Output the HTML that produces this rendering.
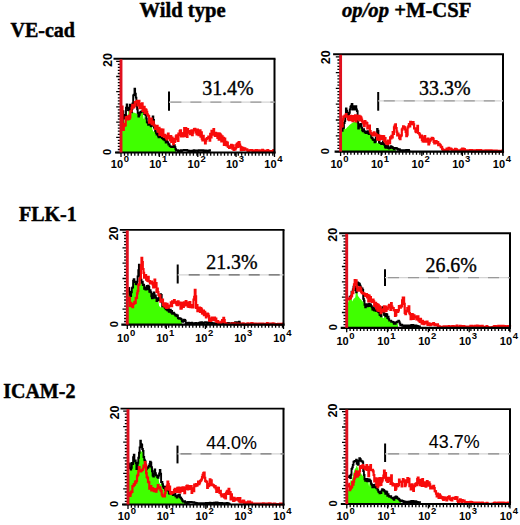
<!DOCTYPE html>
<html><head><meta charset="utf-8"><style>
html,body{margin:0;padding:0;background:#fff;}
body{width:520px;height:525px;overflow:hidden;position:relative;}
svg{position:absolute;left:0;top:0;}
</style></head><body>
<svg width="520" height="525" viewBox="0 0 520 525">
<g font-family="Liberation Serif" font-weight="bold" font-size="20" stroke="#000" stroke-width="0.45">
<text transform="translate(139.5,17.2) scale(1.03,1)">Wild type</text>
<text transform="translate(342,17.2) scale(1.032,1)"><tspan font-style="italic">op/op</tspan> +M-CSF</text>
<text x="10.5" y="37.1">VE-cad</text>
<text x="19" y="220.6">FLK-1</text>
<text x="3.2" y="398">ICAM-2</text>
</g>
<polygon points="121.5,152.5 121.5,127.7 122.0,127.7 122.7,123.8 123.3,125.3 124.0,124.1 124.6,119.2 125.3,115.6 125.9,116.2 126.6,118.8 127.2,117.8 127.9,116.7 128.5,110.7 129.2,110.8 129.8,110.4 130.5,114.6 131.1,114.1 131.8,112.8 132.4,109.5 133.1,112.5 133.7,112.5 134.4,112.7 135.0,113.0 135.7,113.3 136.3,113.5 137.0,113.8 137.6,109.9 138.3,113.5 138.9,117.2 139.6,115.3 140.2,113.2 140.9,112.8 141.5,112.3 142.2,112.0 142.8,111.7 143.5,118.5 144.1,119.1 144.8,114.6 145.4,120.6 146.1,115.7 146.7,119.1 147.4,123.0 148.0,123.2 148.7,125.3 149.3,124.0 150.0,121.7 150.6,127.5 151.3,126.8 151.9,126.4 152.6,130.1 153.2,131.1 153.9,132.0 154.5,128.1 155.2,129.2 155.8,131.7 156.5,133.4 157.1,135.2 157.8,133.7 158.4,136.4 159.1,137.9 159.7,136.9 160.4,136.5 161.0,137.6 161.7,136.7 162.3,138.6 163.0,139.0 163.6,139.9 164.3,139.4 164.9,140.9 165.6,139.9 166.2,143.1 166.9,139.9 167.5,142.7 168.2,142.8 168.8,145.1 169.5,144.7 170.1,146.7 170.8,147.0 171.4,147.3 172.1,147.7 172.7,147.3 173.4,147.7 174.0,146.2 174.7,145.8 175.3,147.7 176.0,149.8 176.0,152.0 176.0,152.5" fill="#40ff00"/>
<polyline points="122.1,123.2 122.8,123.2 122.8,111.1 123.4,111.1 123.4,114.9 124.1,114.9 124.1,118.6 124.7,118.6 124.7,115.0 125.4,115.0 125.4,115.6 126.0,115.6 126.0,107.8 126.7,107.8 126.7,104.4 127.3,104.4 127.3,107.7 128.0,107.7 128.0,110.1 128.6,110.1 128.6,110.2 129.3,110.2 129.3,109.8 129.9,109.8 129.9,104.6 130.6,104.6 130.6,106.5 131.2,106.5 131.2,112.2 131.9,112.2 131.9,108.9 132.5,108.9 132.5,103.5 133.2,103.5 133.2,95.4 133.8,95.4 133.8,94.7 134.5,94.7 134.5,88.7 135.1,88.7 135.1,93.7 135.8,93.7 135.8,97.6 136.4,97.6 136.4,106.2 137.1,106.2 137.1,109.3 137.7,109.3 137.7,112.9 138.4,112.9 138.4,116.6 139.0,116.6 139.0,114.7 139.7,114.7 139.7,112.6 140.3,112.6 140.3,112.2 141.0,112.2 141.0,111.7 141.6,111.7 141.6,111.4 142.3,111.4 142.3,111.1 142.9,111.1 142.9,110.8 143.6,110.8 143.6,111.6 144.2,111.6 144.2,114.0 144.9,114.0 144.9,113.2 145.5,113.2 145.5,115.1 146.2,115.1 146.2,118.5 146.8,118.5 146.8,122.4 147.5,122.4 147.5,122.6 148.1,122.6 148.1,124.7 148.8,124.7 148.8,123.4 149.4,123.4 149.4,121.1 150.1,121.1 150.1,120.1 150.7,120.1 150.7,126.2 151.4,126.2 151.4,125.8 152.0,125.8 152.0,121.0 152.7,121.0 152.7,116.4 153.3,116.4 153.3,119.9 154.0,119.9 154.0,127.5 154.6,127.5 154.6,128.6 155.3,128.6 155.3,131.1 155.9,131.1 155.9,132.8 156.6,132.8 156.6,134.6 157.2,134.6 157.2,133.1 157.9,133.1 157.9,135.8 158.5,135.8 158.5,137.3 159.2,137.3 159.2,136.3 159.8,136.3 159.8,135.9 160.5,135.9 160.5,137.0 161.1,137.0 161.1,136.1 161.8,136.1 161.8,138.0 162.4,138.0 162.4,138.4 163.1,138.4 163.1,139.3 163.7,139.3 163.7,138.8 164.4,138.8 164.4,140.3 165.0,140.3 165.0,139.3 165.7,139.3 165.7,142.5 166.3,142.5 166.3,139.3 167.0,139.3 167.0,142.1 167.6,142.1 167.6,142.2 168.3,142.2 168.3,144.5 168.9,144.5 168.9,144.1 169.6,144.1 169.6,146.1 170.2,146.1 170.2,146.4 170.9,146.4 170.9,146.7 171.5,146.7 171.5,147.1 172.2,147.1 172.2,146.7 172.8,146.7 172.8,147.1 173.5,147.1 173.5,145.6 174.1,145.6 174.1,145.2 174.8,145.2 174.8,147.1 175.4,147.1 175.4,149.2 176.1,149.2 176.1,150.6 176.7,150.6 176.7,150.4 177.4,150.4 177.4,150.2 178.0,150.2 178.0,151.5 178.7,151.5 178.7,150.7 179.3,150.7 179.3,150.6 180.0,150.6 180.0,151.3 180.6,151.3 180.6,150.3 181.3,150.3 181.3,151.1 181.9,151.1 181.9,150.6 182.6,150.6 182.6,150.1 183.2,150.1 183.2,150.2 183.9,150.2 183.9,149.9 184.5,149.9 184.5,150.3 185.2,150.3 185.2,150.0 185.8,150.0 185.8,150.3 186.5,150.3 186.5,149.9 187.1,149.9 187.1,150.5 187.8,150.5 187.8,150.4 188.4,150.4 188.4,151.3 189.1,151.3 189.1,150.7 189.7,150.7 189.7,151.0 190.4,151.0 190.4,151.4 191.0,151.4 191.0,151.1 191.7,151.1 191.7,150.6 192.3,150.6 192.3,151.3 193.0,151.3 193.0,151.4 193.6,151.4 193.6,150.3 194.3,150.3 194.3,151.1 194.9,151.1 194.9,150.5 195.6,150.5 195.6,150.9 196.2,150.9 196.2,150.8 196.9,150.8 196.9,150.5 197.5,150.5 197.5,151.2 198.2,151.2 198.2,150.4 198.8,150.4 198.8,150.2 199.5,150.2 199.5,150.9 200.1,150.9 200.1,150.2 200.8,150.2 200.8,150.9 201.4,150.9 201.4,150.4 202.1,150.4 202.1,150.3 202.7,150.3 202.7,150.2 203.4,150.2 203.4,151.3 204.0,151.3 204.0,151.2 204.7,151.2 204.7,151.0 205.3,151.0 205.3,150.5 206.0,150.5 206.0,150.6 206.6,150.6 206.6,150.6 207.3,150.6 207.3,151.5 207.9,151.5 207.9,151.2 208.6,151.2 208.6,150.4 209.2,150.4 209.2,150.9 209.9,150.9 209.9,150.3 210.0,150.3 210.0,151.0" fill="none" stroke="#000" stroke-width="1.9" stroke-linejoin="miter"/>
<polyline points="121.8,106.5 122.5,106.5 122.5,126.8 123.1,126.8 123.1,130.0 123.8,130.0 123.8,126.0 124.4,126.0 124.4,124.1 125.1,124.1 125.1,125.4 125.7,125.4 125.7,117.4 126.4,117.4 126.4,118.6 127.0,118.6 127.0,117.0 127.7,117.0 127.7,119.3 128.3,119.3 128.3,115.9 129.0,115.9 129.0,118.8 129.6,118.8 129.6,117.5 130.3,117.5 130.3,111.5 130.9,111.5 130.9,111.1 131.6,111.1 131.6,107.9 132.2,107.9 132.2,104.8 132.9,104.8 132.9,107.5 133.5,107.5 133.5,107.4 134.2,107.4 134.2,105.4 134.8,105.4 134.8,102.2 135.5,102.2 135.5,102.2 136.1,102.2 136.1,102.5 136.8,102.5 136.8,100.9 137.4,100.9 137.4,105.5 138.1,105.5 138.1,101.0 138.7,101.0 138.7,100.9 139.4,100.9 139.4,108.1 140.0,108.1 140.0,108.2 140.7,108.2 140.7,104.0 141.3,104.0 141.3,104.3 142.0,104.3 142.0,103.3 142.6,103.3 142.6,110.8 143.3,110.8 143.3,109.2 143.9,109.2 143.9,106.9 144.6,106.9 144.6,113.1 145.2,113.1 145.2,109.4 145.9,109.4 145.9,109.9 146.5,109.9 146.5,111.8 147.2,111.8 147.2,114.4 147.8,114.4 147.8,115.5 148.5,115.5 148.5,116.2 149.1,116.2 149.1,122.7 149.8,122.7 149.8,121.4 150.4,121.4 150.4,121.9 151.1,121.9 151.1,118.5 151.7,118.5 151.7,124.2 152.4,124.2 152.4,122.0 153.0,122.0 153.0,121.5 153.7,121.5 153.7,124.9 154.3,124.9 154.3,125.7 155.0,125.7 155.0,129.0 155.6,129.0 155.6,128.7 156.3,128.7 156.3,127.9 156.9,127.9 156.9,125.9 157.6,125.9 157.6,131.7 158.2,131.7 158.2,130.7 158.9,130.7 158.9,127.8 159.5,127.8 159.5,134.9 160.2,134.9 160.2,134.7 160.8,134.7 160.8,129.3 161.5,129.3 161.5,130.3 162.1,130.3 162.1,135.8 162.8,135.8 162.8,129.6 163.4,129.6 163.4,136.2 164.1,136.2 164.1,137.0 164.7,137.0 164.7,134.8 165.4,134.8 165.4,137.1 166.0,137.1 166.0,138.2 166.7,138.2 166.7,139.5 167.3,139.5 167.3,136.1 168.0,136.1 168.0,133.5 168.6,133.5 168.6,138.0 169.3,138.0 169.3,137.5 169.9,137.5 169.9,140.2 170.6,140.2 170.6,136.2 171.2,136.2 171.2,142.0 171.9,142.0 171.9,137.6 172.5,137.6 172.5,139.3 173.2,139.3 173.2,144.1 173.8,144.1 173.8,138.9 174.5,138.9 174.5,141.9 175.1,141.9 175.1,139.2 175.8,139.2 175.8,136.3 176.4,136.3 176.4,135.3 177.1,135.3 177.1,138.8 177.7,138.8 177.7,141.0 178.4,141.0 178.4,133.5 179.0,133.5 179.0,135.2 179.7,135.2 179.7,131.1 180.3,131.1 180.3,130.3 181.0,130.3 181.0,136.5 181.6,136.5 181.6,133.7 182.3,133.7 182.3,133.4 182.9,133.4 182.9,136.5 183.6,136.5 183.6,133.2 184.2,133.2 184.2,128.0 184.9,128.0 184.9,135.9 185.5,135.9 185.5,128.0 186.2,128.0 186.2,130.9 186.8,130.9 186.8,136.8 187.5,136.8 187.5,129.2 188.1,129.2 188.1,132.6 188.8,132.6 188.8,131.1 189.4,131.1 189.4,131.1 190.1,131.1 190.1,134.1 190.7,134.1 190.7,133.6 191.4,133.6 191.4,130.3 192.0,130.3 192.0,135.1 192.7,135.1 192.7,132.7 193.3,132.7 193.3,130.4 194.0,130.4 194.0,129.1 194.6,129.1 194.6,128.8 195.3,128.8 195.3,130.5 195.9,130.5 195.9,132.3 196.6,132.3 196.6,134.3 197.2,134.3 197.2,129.5 197.9,129.5 197.9,133.4 198.5,133.4 198.5,135.1 199.2,135.1 199.2,133.4 199.8,133.4 199.8,130.3 200.5,130.3 200.5,136.7 201.1,136.7 201.1,132.3 201.8,132.3 201.8,138.6 202.4,138.6 202.4,140.3 203.1,140.3 203.1,135.9 203.7,135.9 203.7,140.5 204.4,140.5 204.4,139.5 205.0,139.5 205.0,143.5 205.7,143.5 205.7,140.6 206.3,140.6 206.3,138.8 207.0,138.8 207.0,138.1 207.6,138.1 207.6,138.2 208.3,138.2 208.3,136.5 208.9,136.5 208.9,137.9 209.6,137.9 209.6,140.7 210.2,140.7 210.2,133.8 210.9,133.8 210.9,137.4 211.5,137.4 211.5,130.9 212.2,130.9 212.2,134.4 212.8,134.4 212.8,134.6 213.5,134.6 213.5,129.1 214.1,129.1 214.1,133.6 214.8,133.6 214.8,135.8 215.4,135.8 215.4,132.9 216.1,132.9 216.1,134.4 216.7,134.4 216.7,134.9 217.4,134.9 217.4,137.8 218.0,137.8 218.0,133.3 218.7,133.3 218.7,139.7 219.3,139.7 219.3,133.7 220.0,133.7 220.0,134.3 220.6,134.3 220.6,135.4 221.3,135.4 221.3,141.4 221.9,141.4 221.9,136.4 222.6,136.4 222.6,141.1 223.2,141.1 223.2,137.9 223.9,137.9 223.9,144.8 224.5,144.8 224.5,138.6 225.2,138.6 225.2,141.9 225.8,141.9 225.8,141.8 226.5,141.8 226.5,145.4 227.1,145.4 227.1,142.7 227.8,142.7 227.8,146.6 228.4,146.6 228.4,147.0 229.1,147.0 229.1,148.0 229.7,148.0 229.7,146.4 230.4,146.4 230.4,146.4 231.0,146.4 231.0,144.9 231.7,144.9 231.7,147.4 232.3,147.4 232.3,148.6 233.0,148.6 233.0,145.4 233.6,145.4 233.6,150.0 234.3,150.0 234.3,148.9 234.9,148.9 234.9,149.4 235.6,149.4 235.6,148.0 236.2,148.0 236.2,144.8 236.9,144.8 236.9,143.7 237.5,143.7 237.5,146.9 238.2,146.9 238.2,142.9 238.8,142.9 238.8,142.1 239.5,142.1 239.5,144.6 240.1,144.6 240.1,146.5 240.8,146.5 240.8,150.2 241.4,150.2 241.4,147.3 242.1,147.3 242.1,149.3 242.7,149.3 242.7,147.9 243.4,147.9 243.4,149.9 244.0,149.9 244.0,149.6 244.7,149.6 244.7,148.4 245.3,148.4 245.3,149.7 246.0,149.7 246.0,149.5 246.6,149.5 246.6,149.4 247.3,149.4 247.3,150.4 247.9,150.4 247.9,151.1 248.6,151.1 248.6,151.0 249.2,151.0 249.2,150.3 249.9,150.3 249.9,150.4 250.5,150.4 250.5,150.1 251.2,150.1 251.2,150.1 251.8,150.1 251.8,150.4 252.5,150.4 252.5,152.1 253.1,152.1 253.1,151.7 253.8,151.7 253.8,151.7 254.4,151.7 254.4,150.5 255.1,150.5 255.1,151.4 255.7,151.4 255.7,150.2 256.4,150.2 256.4,150.0 257.0,150.0 257.0,151.1 257.7,151.1 257.7,151.7 258.3,151.7 258.3,152.0 259.0,152.0 259.0,150.4 259.6,150.4 259.6,152.2 260.3,152.2 260.3,151.6 260.9,151.6 260.9,150.5 261.6,150.5 261.6,151.8 262.2,151.8 262.2,149.8 262.9,149.8 262.9,152.1 263.5,152.1 263.5,150.5 264.2,150.5 264.2,151.3 264.8,151.3 264.8,151.8 265.5,151.8 265.5,151.2 266.1,151.2 266.1,150.9 266.8,150.9 266.8,151.5 267.4,151.5 267.4,150.2 268.1,150.2 268.1,150.8 268.7,150.8 268.7,151.8 269.4,151.8 269.4,151.6 270.0,151.6 270.0,151.2 270.7,151.2 270.7,151.2 271.3,151.2 271.3,151.7 272.0,151.7 272.0,151.7 272.6,151.7 272.6,151.9 273.3,151.9 273.3,150.1 273.9,150.1 273.9,151.8 274.0,151.8 274.0,151.0" fill="none" stroke="#f80a0a" stroke-width="2.2" stroke-linejoin="miter"/>
<line x1="113.5" y1="58.8" x2="275.5" y2="58.8" stroke="#000" stroke-width="1.9"/>
<line x1="274.5" y1="58.8" x2="274.5" y2="153.5" stroke="#000" stroke-width="2"/>
<line x1="115" y1="152.5" x2="275.5" y2="152.5" stroke="#000" stroke-width="2.2"/>
<path d="M121.0 152.5 v4.5 M124.5 152.5 v3.2 M127.9 152.5 v3.2 M131.3 152.5 v3.2 M134.8 152.5 v3.2 M138.2 152.5 v3.2 M141.7 152.5 v3.2 M145.1 152.5 v3.2 M148.6 152.5 v3.2 M152.0 152.5 v3.2 M155.5 152.5 v3.2 M158.9 152.5 v3.2 M162.4 152.5 v3.2 M165.8 152.5 v3.2 M169.3 152.5 v3.2 M172.7 152.5 v3.2 M176.2 152.5 v3.2 M179.6 152.5 v3.2 M183.1 152.5 v3.2 M186.5 152.5 v3.2 M190.0 152.5 v3.2 M193.4 152.5 v3.2 M196.9 152.5 v3.2 M200.3 152.5 v3.2 M203.8 152.5 v3.2 M207.2 152.5 v3.2 M210.7 152.5 v3.2 M214.1 152.5 v3.2 M217.6 152.5 v3.2 M221.0 152.5 v3.2 M224.5 152.5 v3.2 M227.9 152.5 v3.2 M231.4 152.5 v3.2 M234.8 152.5 v3.2 M238.3 152.5 v3.2 M241.7 152.5 v3.2 M245.2 152.5 v3.2 M248.6 152.5 v3.2 M252.1 152.5 v3.2 M255.5 152.5 v3.2 M259.0 152.5 v3.2 M262.4 152.5 v3.2 M265.9 152.5 v3.2 M269.3 152.5 v3.2 M272.8 152.5 v3.2 M274.5 152.5 v4.5 M121.0 152.5 v4.5 M159.4 152.5 v4.5 M197.8 152.5 v4.5 M236.1 152.5 v4.5 M274.5 152.5 v4.5" stroke="#000" stroke-width="1.3"/>
<path d="M116.2 152.5 h4.8 M117.8 149.5 h3.2 M117.8 146.4 h3.2 M117.8 143.4 h3.2 M117.8 140.3 h3.2 M116.2 137.3 h4.8 M117.8 134.3 h3.2 M117.8 131.2 h3.2 M117.8 128.2 h3.2 M117.8 125.1 h3.2 M116.2 122.1 h4.8 M117.8 119.1 h3.2 M117.8 116.0 h3.2 M117.8 113.0 h3.2 M117.8 109.9 h3.2 M116.2 106.9 h4.8 M117.8 103.9 h3.2 M117.8 100.8 h3.2 M117.8 97.8 h3.2 M117.8 94.7 h3.2 M116.2 91.7 h4.8 M117.8 88.7 h3.2 M117.8 85.6 h3.2 M117.8 82.6 h3.2 M117.8 79.5 h3.2 M116.2 76.5 h4.8 M117.8 73.5 h3.2 M117.8 70.4 h3.2 M117.8 67.4 h3.2 M117.8 64.3 h3.2 M116.2 61.3 h4.8" stroke="#000" stroke-width="1.3"/>
<line x1="121" y1="59.3" x2="121" y2="152.5" stroke="#e0101e" stroke-width="2.9"/>
<line x1="169" y1="91.5" x2="169" y2="110.8" stroke="#000" stroke-width="2"/>
<line x1="169" y1="102.1" x2="274.5" y2="102.1" stroke="#d4d4d4" stroke-width="1.2"/>
<line x1="170.4" y1="102.1" x2="274.5" y2="102.1" stroke="#999" stroke-width="1.3" stroke-dasharray="11 9"/>
<text x="227.9" y="94.6" text-anchor="middle" font-family="Liberation Serif" font-size="19.9" stroke="#000" stroke-width="0.35">31.4%</text>
<text transform="translate(111.5,59.9) rotate(-90)" font-family="Liberation Sans" font-weight="bold" font-size="12.6" text-anchor="middle">20</text>
<text transform="translate(111.2,152.0) rotate(-90)" font-family="Liberation Sans" font-weight="bold" font-size="11" text-anchor="middle">0</text>
<text x="110.8" y="168.1" font-family="Liberation Sans" font-weight="bold" font-size="11">10<tspan dx="0.6" dy="-6" font-size="9.5">0</tspan></text>
<text x="149.2" y="168.1" font-family="Liberation Sans" font-weight="bold" font-size="11">10<tspan dx="0.6" dy="-6" font-size="9.5">1</tspan></text>
<text x="187.6" y="168.1" font-family="Liberation Sans" font-weight="bold" font-size="11">10<tspan dx="0.6" dy="-6" font-size="9.5">2</tspan></text>
<text x="225.9" y="168.1" font-family="Liberation Sans" font-weight="bold" font-size="11">10<tspan dx="0.6" dy="-6" font-size="9.5">3</tspan></text>
<text x="264.3" y="168.1" font-family="Liberation Sans" font-weight="bold" font-size="11">10<tspan dx="0.6" dy="-6" font-size="9.5">4</tspan></text>
<polygon points="341.1,151.6 341.1,131.4 341.7,131.4 342.3,131.5 343.0,129.0 343.6,128.5 344.3,123.6 344.9,129.3 345.6,128.9 346.2,128.4 346.9,127.7 347.5,127.1 348.2,126.4 348.8,125.8 349.5,125.1 350.1,124.5 350.8,124.0 351.4,123.5 352.1,123.1 352.7,122.6 353.4,122.2 354.0,121.8 354.7,121.5 355.3,121.8 356.0,122.1 356.6,122.5 357.3,122.8 357.9,122.9 358.6,129.2 359.2,127.1 359.9,124.7 360.5,126.5 361.2,124.6 361.8,128.3 362.5,131.0 363.1,132.0 363.8,129.9 364.4,131.5 365.1,133.1 365.7,132.6 366.4,133.6 367.0,133.7 367.7,131.8 368.3,132.6 369.0,134.7 369.6,134.7 370.3,134.6 370.9,133.7 371.6,138.2 372.2,138.6 372.9,139.9 373.5,140.6 374.2,140.4 374.8,142.8 375.5,142.2 376.1,138.5 376.8,142.3 377.4,142.9 378.1,143.4 378.7,140.7 379.4,142.9 380.0,143.7 380.7,143.7 381.3,144.4 382.0,144.7 382.6,143.6 383.3,142.1 383.9,144.5 384.6,145.5 385.2,147.5 385.9,148.3 386.5,146.7 387.2,146.4 387.8,146.4 388.5,148.7 389.1,149.2 389.8,148.6 390.4,147.7 391.1,146.9 391.7,148.4 392.4,147.6 393.0,148.8 393.7,149.0 394.3,149.8 395.0,148.6 395.6,148.6 396.0,152.0 396.0,151.6" fill="#40ff00"/>
<polyline points="342.0,130.9 342.6,130.9 342.6,128.4 343.3,128.4 343.3,127.9 343.9,127.9 343.9,123.0 344.6,123.0 344.6,121.1 345.2,121.1 345.2,116.0 345.9,116.0 345.9,108.4 346.5,108.4 346.5,110.8 347.2,110.8 347.2,116.3 347.8,116.3 347.8,115.6 348.5,115.6 348.5,114.1 349.1,114.1 349.1,112.8 349.8,112.8 349.8,109.4 350.4,109.4 350.4,106.8 351.1,106.8 351.1,105.7 351.7,105.7 351.7,104.0 352.4,104.0 352.4,109.6 353.0,109.6 353.0,108.5 353.7,108.5 353.7,106.3 354.3,106.3 354.3,106.1 355.0,106.1 355.0,109.5 355.6,109.5 355.6,106.1 356.3,106.1 356.3,109.4 356.9,109.4 356.9,111.1 357.6,111.1 357.6,122.3 358.2,122.3 358.2,128.6 358.9,128.6 358.9,126.5 359.5,126.5 359.5,124.1 360.2,124.1 360.2,125.9 360.8,125.9 360.8,124.0 361.5,124.0 361.5,127.7 362.1,127.7 362.1,130.4 362.8,130.4 362.8,131.4 363.4,131.4 363.4,129.3 364.1,129.3 364.1,130.9 364.7,130.9 364.7,132.5 365.4,132.5 365.4,132.0 366.0,132.0 366.0,133.0 366.7,133.0 366.7,133.1 367.3,133.1 367.3,131.2 368.0,131.2 368.0,132.0 368.6,132.0 368.6,134.1 369.3,134.1 369.3,134.1 369.9,134.1 369.9,134.0 370.6,134.0 370.6,133.1 371.2,133.1 371.2,137.6 371.9,137.6 371.9,138.0 372.5,138.0 372.5,139.3 373.2,139.3 373.2,140.0 373.8,140.0 373.8,139.8 374.5,139.8 374.5,142.2 375.1,142.2 375.1,141.6 375.8,141.6 375.8,137.9 376.4,137.9 376.4,134.1 377.1,134.1 377.1,129.0 377.7,129.0 377.7,130.7 378.4,130.7 378.4,140.1 379.0,140.1 379.0,142.3 379.7,142.3 379.7,143.1 380.3,143.1 380.3,143.1 381.0,143.1 381.0,143.8 381.6,143.8 381.6,144.1 382.3,144.1 382.3,143.0 382.9,143.0 382.9,141.5 383.6,141.5 383.6,143.9 384.2,143.9 384.2,144.9 384.9,144.9 384.9,146.9 385.5,146.9 385.5,147.7 386.2,147.7 386.2,146.1 386.8,146.1 386.8,145.8 387.5,145.8 387.5,145.8 388.1,145.8 388.1,148.1 388.8,148.1 388.8,148.6 389.4,148.6 389.4,148.0 390.1,148.0 390.1,147.1 390.7,147.1 390.7,146.3 391.4,146.3 391.4,147.8 392.0,147.8 392.0,147.0 392.7,147.0 392.7,148.2 393.3,148.2 393.3,148.4 394.0,148.4 394.0,149.2 394.6,149.2 394.6,148.0 395.3,148.0 395.3,148.0 395.9,148.0 395.9,148.1 396.6,148.1 396.6,148.2 397.2,148.2 397.2,149.0 397.9,149.0 397.9,149.8 398.5,149.8 398.5,149.6 399.2,149.6 399.2,149.1 399.8,149.1 399.8,150.4 400.5,150.4 400.5,150.2 401.1,150.2 401.1,150.2 401.8,150.2 401.8,150.2 402.4,150.2 402.4,150.2 403.1,150.2 403.1,150.3 403.7,150.3 403.7,150.6 404.4,150.6 404.4,150.1 405.0,150.1 405.0,150.9 405.7,150.9 405.7,150.7 406.3,150.7 406.3,150.0 407.0,150.0 407.0,150.3 407.6,150.3 407.6,151.0 408.3,151.0 408.3,150.0 408.9,150.0 408.9,150.7 409.6,150.7 409.6,150.5 410.0,150.5 410.0,150.5" fill="none" stroke="#000" stroke-width="1.9" stroke-linejoin="miter"/>
<polyline points="342.0,126.3 342.6,126.3 342.6,119.3 343.3,119.3 343.3,116.5 343.9,116.5 343.9,116.7 344.6,116.7 344.6,115.7 345.2,115.7 345.2,115.5 345.9,115.5 345.9,114.0 346.5,114.0 346.5,116.7 347.2,116.7 347.2,116.6 347.8,116.6 347.8,119.3 348.5,119.3 348.5,116.4 349.1,116.4 349.1,120.1 349.8,120.1 349.8,119.9 350.4,119.9 350.4,115.8 351.1,115.8 351.1,116.4 351.7,116.4 351.7,117.1 352.4,117.1 352.4,121.2 353.0,121.2 353.0,116.2 353.7,116.2 353.7,119.9 354.3,119.9 354.3,119.6 355.0,119.6 355.0,115.4 355.6,115.4 355.6,121.4 356.3,121.4 356.3,115.7 356.9,115.7 356.9,119.0 357.6,119.0 357.6,117.3 358.2,117.3 358.2,119.5 358.9,119.5 358.9,115.8 359.5,115.8 359.5,120.3 360.2,120.3 360.2,116.6 360.8,116.6 360.8,117.7 361.5,117.7 361.5,119.5 362.1,119.5 362.1,121.5 362.8,121.5 362.8,122.5 363.4,122.5 363.4,123.4 364.1,123.4 364.1,126.2 364.7,126.2 364.7,121.2 365.4,121.2 365.4,123.5 366.0,123.5 366.0,122.5 366.7,122.5 366.7,123.1 367.3,123.1 367.3,128.3 368.0,128.3 368.0,127.3 368.6,127.3 368.6,127.9 369.3,127.9 369.3,125.7 369.9,125.7 369.9,131.1 370.6,131.1 370.6,133.2 371.2,133.2 371.2,133.7 371.9,133.7 371.9,133.7 372.5,133.7 372.5,135.5 373.2,135.5 373.2,134.3 373.8,134.3 373.8,132.3 374.5,132.3 374.5,135.5 375.1,135.5 375.1,133.6 375.8,133.6 375.8,134.1 376.4,134.1 376.4,135.1 377.1,135.1 377.1,139.5 377.7,139.5 377.7,137.1 378.4,137.1 378.4,135.4 379.0,135.4 379.0,139.9 379.7,139.9 379.7,135.9 380.3,135.9 380.3,136.2 381.0,136.2 381.0,138.9 381.6,138.9 381.6,138.6 382.3,138.6 382.3,139.2 382.9,139.2 382.9,136.1 383.6,136.1 383.6,136.3 384.2,136.3 384.2,141.2 384.9,141.2 384.9,138.0 385.5,138.0 385.5,142.7 386.2,142.7 386.2,143.6 386.8,143.6 386.8,141.7 387.5,141.7 387.5,144.1 388.1,144.1 388.1,140.6 388.8,140.6 388.8,140.6 389.4,140.6 389.4,143.1 390.1,143.1 390.1,137.4 390.7,137.4 390.7,138.5 391.4,138.5 391.4,135.8 392.0,135.8 392.0,137.3 392.7,137.3 392.7,132.2 393.3,132.2 393.3,134.0 394.0,134.0 394.0,127.4 394.6,127.4 394.6,125.5 395.3,125.5 395.3,124.4 395.9,124.4 395.9,128.1 396.6,128.1 396.6,131.6 397.2,131.6 397.2,135.5 397.9,135.5 397.9,133.5 398.5,133.5 398.5,135.3 399.2,135.3 399.2,137.9 399.8,137.9 399.8,139.1 400.5,139.1 400.5,136.2 401.1,136.2 401.1,135.4 401.8,135.4 401.8,129.7 402.4,129.7 402.4,128.5 403.1,128.5 403.1,126.3 403.7,126.3 403.7,126.9 404.4,126.9 404.4,127.4 405.0,127.4 405.0,129.5 405.7,129.5 405.7,132.0 406.3,132.0 406.3,136.2 407.0,136.2 407.0,134.7 407.6,134.7 407.6,127.5 408.3,127.5 408.3,126.4 408.9,126.4 408.9,124.1 409.6,124.1 409.6,126.5 410.2,126.5 410.2,121.8 410.9,121.8 410.9,122.5 411.5,122.5 411.5,122.0 412.2,122.0 412.2,124.2 412.8,124.2 412.8,122.2 413.5,122.2 413.5,124.4 414.1,124.4 414.1,128.5 414.8,128.5 414.8,128.4 415.4,128.4 415.4,131.5 416.1,131.5 416.1,132.1 416.7,132.1 416.7,129.9 417.4,129.9 417.4,125.9 418.0,125.9 418.0,133.0 418.7,133.0 418.7,133.2 419.3,133.2 419.3,134.3 420.0,134.3 420.0,137.4 420.6,137.4 420.6,135.9 421.3,135.9 421.3,135.5 421.9,135.5 421.9,140.0 422.6,140.0 422.6,141.4 423.2,141.4 423.2,137.3 423.9,137.3 423.9,141.7 424.5,141.7 424.5,136.2 425.2,136.2 425.2,139.8 425.8,139.8 425.8,141.6 426.5,141.6 426.5,140.2 427.1,140.2 427.1,139.3 427.8,139.3 427.8,138.6 428.4,138.6 428.4,144.3 429.1,144.3 429.1,142.6 429.7,142.6 429.7,140.8 430.4,140.8 430.4,139.6 431.0,139.6 431.0,139.2 431.7,139.2 431.7,137.9 432.3,137.9 432.3,138.1 433.0,138.1 433.0,138.8 433.6,138.8 433.6,141.9 434.3,141.9 434.3,143.3 434.9,143.3 434.9,141.7 435.6,141.7 435.6,141.2 436.2,141.2 436.2,141.6 436.9,141.6 436.9,143.1 437.5,143.1 437.5,142.2 438.2,142.2 438.2,145.2 438.8,145.2 438.8,143.8 439.5,143.8 439.5,144.5 440.1,144.5 440.1,145.3 440.8,145.3 440.8,147.1 441.4,147.1 441.4,146.9 442.1,146.9 442.1,148.8 442.7,148.8 442.7,149.9 443.4,149.9 443.4,149.8 444.0,149.8 444.0,149.9 444.7,149.9 444.7,150.9 445.3,150.9 445.3,150.8 446.0,150.8 446.0,150.4 446.6,150.4 446.6,148.5 447.3,148.5 447.3,149.3 447.9,149.3 447.9,150.4 448.6,150.4 448.6,147.9 449.2,147.9 449.2,149.0 449.9,149.0 449.9,148.7 450.5,148.7 450.5,148.6 451.2,148.6 451.2,149.4 451.8,149.4 451.8,149.9 452.5,149.9 452.5,150.0 453.1,150.0 453.1,150.9 453.8,150.9 453.8,151.1 454.4,151.1 454.4,149.9 455.1,149.9 455.1,148.8 455.7,148.8 455.7,149.8 456.4,149.8 456.4,149.3 457.0,149.3 457.0,150.7 457.7,150.7 457.7,151.0 458.3,151.0 458.3,151.3 459.0,151.3 459.0,150.3 459.6,150.3 459.6,150.5 460.3,150.5 460.3,150.7 460.9,150.7 460.9,149.6 461.6,149.6 461.6,150.1 462.2,150.1 462.2,148.5 462.9,148.5 462.9,148.6 463.5,148.6 463.5,150.0 464.2,150.0 464.2,149.2 464.8,149.2 464.8,150.5 465.5,150.5 465.5,150.7 466.1,150.7 466.1,151.0 466.8,151.0 466.8,150.3 467.4,150.3 467.4,151.0 468.1,151.0 468.1,150.7 468.7,150.7 468.7,151.0 469.4,151.0 469.4,150.3 470.0,150.3 470.0,150.0 470.7,150.0 470.7,150.5 471.3,150.5 471.3,150.0 472.0,150.0 472.0,151.6 472.6,151.6 472.6,150.4 473.3,150.4 473.3,150.4 473.9,150.4 473.9,151.0 474.6,151.0 474.6,150.7 475.2,150.7 475.2,151.4 475.9,151.4 475.9,150.9 476.5,150.9 476.5,150.0 477.2,150.0 477.2,150.6 477.8,150.6 477.8,150.1 478.5,150.1 478.5,151.4 479.1,151.4 479.1,151.5 479.8,151.5 479.8,150.3 480.4,150.3 480.4,150.2 481.1,150.2 481.1,151.5 481.7,151.5 481.7,151.4 482.4,151.4 482.4,151.5 483.0,151.5 483.0,150.6 483.7,150.6 483.7,150.6 484.3,150.6 484.3,151.3 485.0,151.3 485.0,150.6 485.6,150.6 485.6,150.3 486.3,150.3 486.3,150.8 486.9,150.8 486.9,151.5 487.6,151.5 487.6,150.3 488.2,150.3 488.2,150.8 488.9,150.8 488.9,151.6 489.5,151.6 489.5,150.4 490.2,150.4 490.2,151.1 490.8,151.1 490.8,150.3 491.5,150.3 491.5,151.4 492.1,151.4 492.1,150.8 492.8,150.8 492.8,150.7 493.4,150.7 493.4,150.7 494.1,150.7 494.1,151.6 494.7,151.6 494.7,150.7 495.4,150.7 495.4,151.6 496.0,151.6 496.0,150.7 496.7,150.7 496.7,151.6 497.3,151.6 497.3,151.6 498.0,151.6 498.0,151.5 498.6,151.5 498.6,150.8 499.3,150.8 499.3,151.6 499.9,151.6 499.9,151.5 500.6,151.5 500.6,151.3 501.2,151.3 501.2,151.0 501.9,151.0 501.9,150.6 502.5,150.6 502.5,151.6 503.0,151.6 503.0,151.0" fill="none" stroke="#f80a0a" stroke-width="2.2" stroke-linejoin="miter"/>
<line x1="333.1" y1="54.3" x2="504" y2="54.3" stroke="#000" stroke-width="1.9"/>
<line x1="503" y1="54.3" x2="503" y2="152.6" stroke="#000" stroke-width="2"/>
<line x1="334.6" y1="151.6" x2="504" y2="151.6" stroke="#000" stroke-width="2.2"/>
<path d="M340.6 151.6 v4.5 M344.1 151.6 v3.2 M347.5 151.6 v3.2 M350.9 151.6 v3.2 M354.4 151.6 v3.2 M357.8 151.6 v3.2 M361.3 151.6 v3.2 M364.7 151.6 v3.2 M368.2 151.6 v3.2 M371.6 151.6 v3.2 M375.1 151.6 v3.2 M378.5 151.6 v3.2 M382.0 151.6 v3.2 M385.4 151.6 v3.2 M388.9 151.6 v3.2 M392.3 151.6 v3.2 M395.8 151.6 v3.2 M399.2 151.6 v3.2 M402.7 151.6 v3.2 M406.1 151.6 v3.2 M409.6 151.6 v3.2 M413.0 151.6 v3.2 M416.5 151.6 v3.2 M419.9 151.6 v3.2 M423.4 151.6 v3.2 M426.8 151.6 v3.2 M430.3 151.6 v3.2 M433.7 151.6 v3.2 M437.2 151.6 v3.2 M440.6 151.6 v3.2 M444.1 151.6 v3.2 M447.5 151.6 v3.2 M451.0 151.6 v3.2 M454.4 151.6 v3.2 M457.9 151.6 v3.2 M461.3 151.6 v3.2 M464.8 151.6 v3.2 M468.2 151.6 v3.2 M471.7 151.6 v3.2 M475.1 151.6 v3.2 M478.6 151.6 v3.2 M482.0 151.6 v3.2 M485.5 151.6 v3.2 M488.9 151.6 v3.2 M492.4 151.6 v3.2 M495.8 151.6 v3.2 M499.3 151.6 v3.2 M502.7 151.6 v3.2 M503.0 151.6 v4.5 M340.6 151.6 v4.5 M381.2 151.6 v4.5 M421.8 151.6 v4.5 M462.4 151.6 v4.5 M503.0 151.6 v4.5" stroke="#000" stroke-width="1.3"/>
<path d="M335.8 151.6 h4.8 M337.4 148.4 h3.2 M337.4 145.3 h3.2 M337.4 142.1 h3.2 M337.4 139.0 h3.2 M335.8 135.8 h4.8 M337.4 132.6 h3.2 M337.4 129.5 h3.2 M337.4 126.3 h3.2 M337.4 123.2 h3.2 M335.8 120.0 h4.8 M337.4 116.8 h3.2 M337.4 113.7 h3.2 M337.4 110.5 h3.2 M337.4 107.4 h3.2 M335.8 104.2 h4.8 M337.4 101.0 h3.2 M337.4 97.9 h3.2 M337.4 94.7 h3.2 M337.4 91.6 h3.2 M335.8 88.4 h4.8 M337.4 85.2 h3.2 M337.4 82.1 h3.2 M337.4 78.9 h3.2 M337.4 75.8 h3.2 M335.8 72.6 h4.8 M337.4 69.4 h3.2 M337.4 66.3 h3.2 M337.4 63.1 h3.2 M337.4 60.0 h3.2 M335.8 56.8 h4.8" stroke="#000" stroke-width="1.3"/>
<line x1="340.6" y1="54.8" x2="340.6" y2="151.6" stroke="#e0101e" stroke-width="2.9"/>
<line x1="378.2" y1="92" x2="378.2" y2="110.7" stroke="#000" stroke-width="2"/>
<line x1="378.2" y1="100.8" x2="503" y2="100.8" stroke="#d4d4d4" stroke-width="1.2"/>
<line x1="383.8" y1="100.8" x2="503" y2="100.8" stroke="#999" stroke-width="1.3" stroke-dasharray="11 9"/>
<text x="444.8" y="94.6" text-anchor="middle" font-family="Liberation Serif" font-size="19.9" stroke="#000" stroke-width="0.35">33.3%</text>
<text transform="translate(329.70000000000005,57.199999999999996) rotate(-90)" font-family="Liberation Sans" font-weight="bold" font-size="12.6" text-anchor="middle">20</text>
<text transform="translate(329.40000000000003,151.1) rotate(-90)" font-family="Liberation Sans" font-weight="bold" font-size="11" text-anchor="middle">0</text>
<text x="330.4" y="167.8" font-family="Liberation Sans" font-weight="bold" font-size="11">10<tspan dx="0.6" dy="-6" font-size="9.5">0</tspan></text>
<text x="371.0" y="167.8" font-family="Liberation Sans" font-weight="bold" font-size="11">10<tspan dx="0.6" dy="-6" font-size="9.5">1</tspan></text>
<text x="411.6" y="167.8" font-family="Liberation Sans" font-weight="bold" font-size="11">10<tspan dx="0.6" dy="-6" font-size="9.5">2</tspan></text>
<text x="452.2" y="167.8" font-family="Liberation Sans" font-weight="bold" font-size="11">10<tspan dx="0.6" dy="-6" font-size="9.5">3</tspan></text>
<text x="492.8" y="167.8" font-family="Liberation Sans" font-weight="bold" font-size="11">10<tspan dx="0.6" dy="-6" font-size="9.5">4</tspan></text>
<polygon points="127.8,324.6 127.8,289.0 128.5,288.6 129.2,292.2 129.8,295.5 130.5,296.6 131.1,292.9 131.8,288.7 132.4,288.0 133.1,281.4 133.7,279.8 134.4,282.7 135.0,282.3 135.7,284.6 136.3,284.9 137.0,282.2 137.6,285.1 138.3,285.6 138.9,286.0 139.6,285.6 140.2,285.2 140.9,280.4 141.5,283.4 142.2,282.4 142.8,285.7 143.5,285.3 144.1,289.5 144.8,288.1 145.4,290.2 146.1,288.6 146.7,286.6 147.4,289.9 148.0,286.4 148.7,287.6 149.3,292.4 150.0,290.8 150.6,292.8 151.3,296.9 151.9,298.9 152.6,297.6 153.2,294.4 153.9,293.1 154.5,298.4 155.2,296.1 155.8,298.5 156.5,301.7 157.1,299.1 157.8,299.9 158.4,301.0 159.1,305.9 159.7,306.5 160.4,307.2 161.0,307.8 161.7,303.0 162.3,306.8 163.0,307.0 163.6,305.5 164.3,308.0 164.9,308.4 165.6,309.8 166.2,308.9 166.9,310.3 167.5,311.2 168.2,309.0 168.8,312.4 169.5,311.4 170.1,310.2 170.8,313.1 171.4,311.5 172.1,314.3 172.7,314.5 173.4,313.3 174.0,314.4 174.7,315.2 175.3,316.1 176.0,315.4 176.6,316.9 177.3,316.1 177.9,318.6 178.6,319.2 179.2,319.5 179.9,318.8 180.5,319.5 181.2,320.0 181.8,322.0 182.0,324.6 182.0,324.6" fill="#40ff00"/>
<polyline points="128.5,288.0 129.2,288.0 129.2,291.6 129.8,291.6 129.8,294.9 130.5,294.9 130.5,296.0 131.1,296.0 131.1,292.3 131.8,292.3 131.8,288.1 132.4,288.1 132.4,287.4 133.1,287.4 133.1,280.8 133.7,280.8 133.7,279.2 134.4,279.2 134.4,282.1 135.0,282.1 135.0,281.7 135.7,281.7 135.7,284.0 136.3,284.0 136.3,284.3 137.0,284.3 137.0,281.6 137.6,281.6 137.6,276.4 138.3,276.4 138.3,270.2 138.9,270.2 138.9,264.8 139.6,264.8 139.6,269.0 140.2,269.0 140.2,277.6 140.9,277.6 140.9,279.8 141.5,279.8 141.5,282.8 142.2,282.8 142.2,281.8 142.8,281.8 142.8,285.1 143.5,285.1 143.5,284.7 144.1,284.7 144.1,288.9 144.8,288.9 144.8,287.5 145.4,287.5 145.4,289.6 146.1,289.6 146.1,288.0 146.7,288.0 146.7,286.0 147.4,286.0 147.4,289.3 148.0,289.3 148.0,285.8 148.7,285.8 148.7,287.0 149.3,287.0 149.3,291.8 150.0,291.8 150.0,290.2 150.6,290.2 150.6,292.2 151.3,292.2 151.3,296.3 151.9,296.3 151.9,298.3 152.6,298.3 152.6,297.0 153.2,297.0 153.2,293.8 153.9,293.8 153.9,292.5 154.5,292.5 154.5,297.8 155.2,297.8 155.2,295.5 155.8,295.5 155.8,297.9 156.5,297.9 156.5,301.1 157.1,301.1 157.1,298.5 157.8,298.5 157.8,299.3 158.4,299.3 158.4,300.4 159.1,300.4 159.1,297.4 159.7,297.4 159.7,296.8 160.4,296.8 160.4,294.2 161.0,294.2 161.0,295.0 161.7,295.0 161.7,302.4 162.3,302.4 162.3,306.2 163.0,306.2 163.0,306.4 163.6,306.4 163.6,304.9 164.3,304.9 164.3,307.4 164.9,307.4 164.9,307.8 165.6,307.8 165.6,309.2 166.2,309.2 166.2,308.3 166.9,308.3 166.9,309.7 167.5,309.7 167.5,310.6 168.2,310.6 168.2,308.4 168.8,308.4 168.8,311.8 169.5,311.8 169.5,310.8 170.1,310.8 170.1,309.6 170.8,309.6 170.8,312.5 171.4,312.5 171.4,310.9 172.1,310.9 172.1,313.7 172.7,313.7 172.7,313.9 173.4,313.9 173.4,312.7 174.0,312.7 174.0,313.8 174.7,313.8 174.7,314.6 175.3,314.6 175.3,315.5 176.0,315.5 176.0,314.8 176.6,314.8 176.6,316.3 177.3,316.3 177.3,315.5 177.9,315.5 177.9,318.0 178.6,318.0 178.6,318.6 179.2,318.6 179.2,318.9 179.9,318.9 179.9,318.2 180.5,318.2 180.5,318.9 181.2,318.9 181.2,319.4 181.8,319.4 181.8,321.4 182.5,321.4 182.5,321.7 183.1,321.7 183.1,321.0 183.8,321.0 183.8,319.6 184.4,319.6 184.4,320.0 185.1,320.0 185.1,320.8 185.7,320.8 185.7,323.2 186.4,323.2 186.4,323.0 187.0,323.0 187.0,323.3 187.7,323.3 187.7,323.5 188.3,323.5 188.3,322.6 189.0,322.6 189.0,322.9 189.6,322.9 189.6,323.2 190.3,323.2 190.3,323.3 190.9,323.3 190.9,322.9 191.6,322.9 191.6,322.6 192.2,322.6 192.2,323.3 192.9,323.3 192.9,323.4 193.5,323.4 193.5,323.5 194.2,323.5 194.2,323.9 194.8,323.9 194.8,323.2 195.5,323.2 195.5,323.0 196.1,323.0 196.1,323.5 196.8,323.5 196.8,323.9 197.4,323.9 197.4,323.3 198.1,323.3 198.1,323.1 198.7,323.1 198.7,323.0 199.4,323.0 199.4,322.7 200.0,322.7 200.0,322.5 200.7,322.5 200.7,323.1 201.3,323.1 201.3,322.3 202.0,322.3 202.0,323.1 202.6,323.1 202.6,323.4 203.3,323.4 203.3,323.0 203.9,323.0 203.9,322.7 204.6,322.7 204.6,322.4 205.2,322.4 205.2,322.1 205.9,322.1 205.9,322.4 206.5,322.4 206.5,322.7 207.2,322.7 207.2,323.4 207.8,323.4 207.8,323.2 208.5,323.2 208.5,322.2 209.1,322.2 209.1,322.4 209.8,322.4 209.8,322.6 210.4,322.6 210.4,322.7 211.1,322.7 211.1,323.5 211.7,323.5 211.7,322.7 212.4,322.7 212.4,323.9 213.0,323.9 213.0,323.9 213.7,323.9 213.7,323.3 214.3,323.3 214.3,324.0 215.0,324.0 215.0,323.1 215.6,323.1 215.6,323.4 216.3,323.4 216.3,323.8 216.9,323.8 216.9,323.5 217.6,323.5 217.6,323.9 218.2,323.9 218.2,323.3 218.9,323.3 218.9,323.1 219.5,323.1 219.5,324.1 220.2,324.1 220.2,323.7 220.8,323.7 220.8,322.9 221.5,322.9 221.5,324.0 222.1,324.0 222.1,323.2 222.8,323.2 222.8,323.7 223.4,323.7 223.4,323.3 224.1,323.3 224.1,323.8 224.7,323.8 224.7,323.6 225.4,323.6 225.4,323.0 226.0,323.0 226.0,323.4 226.7,323.4 226.7,323.6 227.3,323.6 227.3,323.3 228.0,323.3 228.0,323.0 228.6,323.0 228.6,323.3 229.3,323.3 229.3,323.9 229.9,323.9 229.9,323.9 230.6,323.9 230.6,323.5 231.2,323.5 231.2,323.8 231.9,323.8 231.9,323.0 232.5,323.0 232.5,323.7 233.2,323.7 233.2,323.2 233.8,323.2 233.8,322.9 234.5,322.9 234.5,323.3 235.1,323.3 235.1,322.1 235.8,322.1 235.8,322.3 236.4,322.3 236.4,322.9 237.1,322.9 237.1,322.6 237.7,322.6 237.7,322.2 238.4,322.2 238.4,323.1 239.0,323.1 239.0,321.6 239.7,321.6 239.7,322.9 240.0,322.9 240.0,322.0" fill="none" stroke="#000" stroke-width="1.9" stroke-linejoin="miter"/>
<polyline points="128.5,301.5 129.2,301.5 129.2,297.9 129.8,297.9 129.8,306.0 130.5,306.0 130.5,302.9 131.1,302.9 131.1,305.8 131.8,305.8 131.8,306.1 132.4,306.1 132.4,307.2 133.1,307.2 133.1,304.1 133.7,304.1 133.7,303.6 134.4,303.6 134.4,301.9 135.0,301.9 135.0,302.9 135.7,302.9 135.7,298.2 136.3,298.2 136.3,297.8 137.0,297.8 137.0,293.3 137.6,293.3 137.6,290.9 138.3,290.9 138.3,284.8 138.9,284.8 138.9,284.4 139.6,284.4 139.6,279.0 140.2,279.0 140.2,277.6 140.9,277.6 140.9,265.3 141.5,265.3 141.5,257.8 142.2,257.8 142.2,262.1 142.8,262.1 142.8,269.0 143.5,269.0 143.5,272.9 144.1,272.9 144.1,277.7 144.8,277.7 144.8,276.6 145.4,276.6 145.4,275.2 146.1,275.2 146.1,279.7 146.7,279.7 146.7,279.3 147.4,279.3 147.4,281.0 148.0,281.0 148.0,276.9 148.7,276.9 148.7,281.4 149.3,281.4 149.3,281.1 150.0,281.1 150.0,283.4 150.6,283.4 150.6,283.0 151.3,283.0 151.3,281.7 151.9,281.7 151.9,282.8 152.6,282.8 152.6,284.4 153.2,284.4 153.2,287.4 153.9,287.4 153.9,286.8 154.5,286.8 154.5,279.5 155.2,279.5 155.2,284.1 155.8,284.1 155.8,283.2 156.5,283.2 156.5,292.0 157.1,292.0 157.1,288.5 157.8,288.5 157.8,292.2 158.4,292.2 158.4,294.9 159.1,294.9 159.1,296.0 159.7,296.0 159.7,295.3 160.4,295.3 160.4,301.7 161.0,301.7 161.0,299.6 161.7,299.6 161.7,301.3 162.3,301.3 162.3,299.7 163.0,299.7 163.0,305.2 163.6,305.2 163.6,304.3 164.3,304.3 164.3,306.7 164.9,306.7 164.9,303.3 165.6,303.3 165.6,305.0 166.2,305.0 166.2,308.0 166.9,308.0 166.9,303.9 167.5,303.9 167.5,305.7 168.2,305.7 168.2,307.7 168.8,307.7 168.8,306.3 169.5,306.3 169.5,305.7 170.1,305.7 170.1,306.0 170.8,306.0 170.8,302.3 171.4,302.3 171.4,306.2 172.1,306.2 172.1,301.3 172.7,301.3 172.7,303.0 173.4,303.0 173.4,302.4 174.0,302.4 174.0,300.2 174.7,300.2 174.7,302.4 175.3,302.4 175.3,301.9 176.0,301.9 176.0,303.4 176.6,303.4 176.6,305.0 177.3,305.0 177.3,305.2 177.9,305.2 177.9,301.3 178.6,301.3 178.6,303.0 179.2,303.0 179.2,304.5 179.9,304.5 179.9,302.7 180.5,302.7 180.5,308.6 181.2,308.6 181.2,308.4 181.8,308.4 181.8,304.0 182.5,304.0 182.5,302.9 183.1,302.9 183.1,306.9 183.8,306.9 183.8,302.3 184.4,302.3 184.4,305.5 185.1,305.5 185.1,305.1 185.7,305.1 185.7,301.1 186.4,301.1 186.4,303.8 187.0,303.8 187.0,304.3 187.7,304.3 187.7,306.7 188.3,306.7 188.3,302.7 189.0,302.7 189.0,306.8 189.6,306.8 189.6,302.2 190.3,302.2 190.3,307.1 190.9,307.1 190.9,305.2 191.6,305.2 191.6,307.0 192.2,307.0 192.2,307.3 192.9,307.3 192.9,307.5 193.5,307.5 193.5,299.6 194.2,299.6 194.2,296.8 194.8,296.8 194.8,289.8 195.5,289.8 195.5,296.4 196.1,296.4 196.1,308.0 196.8,308.0 196.8,305.0 197.4,305.0 197.4,311.2 198.1,311.2 198.1,307.8 198.7,307.8 198.7,310.3 199.4,310.3 199.4,307.5 200.0,307.5 200.0,311.8 200.7,311.8 200.7,308.0 201.3,308.0 201.3,309.3 202.0,309.3 202.0,313.5 202.6,313.5 202.6,313.7 203.3,313.7 203.3,310.7 203.9,310.7 203.9,315.1 204.6,315.1 204.6,311.9 205.2,311.9 205.2,314.8 205.9,314.8 205.9,317.4 206.5,317.4 206.5,314.1 207.2,314.1 207.2,313.6 207.8,313.6 207.8,314.4 208.5,314.4 208.5,316.2 209.1,316.2 209.1,320.3 209.8,320.3 209.8,320.8 210.4,320.8 210.4,321.0 211.1,321.0 211.1,318.5 211.7,318.5 211.7,317.5 212.4,317.5 212.4,319.8 213.0,319.8 213.0,318.5 213.7,318.5 213.7,319.6 214.3,319.6 214.3,317.5 215.0,317.5 215.0,320.4 215.6,320.4 215.6,318.6 216.3,318.6 216.3,321.9 216.9,321.9 216.9,321.7 217.6,321.7 217.6,321.2 218.2,321.2 218.2,323.6 218.9,323.6 218.9,324.1 219.5,324.1 219.5,322.3 220.2,322.3 220.2,323.2 220.8,323.2 220.8,323.7 221.5,323.7 221.5,321.6 222.1,321.6 222.1,320.0 222.8,320.0 222.8,321.7 223.4,321.7 223.4,317.9 224.1,317.9 224.1,320.1 224.7,320.1 224.7,323.6 225.4,323.6 225.4,323.1 226.0,323.1 226.0,323.8 226.7,323.8 226.7,324.4 227.3,324.4 227.3,324.2 228.0,324.2 228.0,323.8 228.6,323.8 228.6,324.3 229.3,324.3 229.3,324.0 229.9,324.0 229.9,324.2 230.6,324.2 230.6,324.0 231.2,324.0 231.2,323.5 231.9,323.5 231.9,323.5 232.5,323.5 232.5,323.3 233.2,323.3 233.2,324.0 233.8,324.0 233.8,324.4 234.5,324.4 234.5,323.3 235.1,323.3 235.1,324.6 235.8,324.6 235.8,324.2 236.4,324.2 236.4,323.8 237.1,323.8 237.1,324.1 237.7,324.1 237.7,323.6 238.4,323.6 238.4,324.4 239.0,324.4 239.0,324.1 239.7,324.1 239.7,324.4 240.3,324.4 240.3,324.1 241.0,324.1 241.0,323.6 241.6,323.6 241.6,323.9 242.3,323.9 242.3,323.7 242.9,323.7 242.9,323.3 243.6,323.3 243.6,324.6 244.2,324.6 244.2,324.5 244.9,324.5 244.9,323.9 245.5,323.9 245.5,324.6 246.2,324.6 246.2,324.5 246.8,324.5 246.8,324.5 247.5,324.5 247.5,323.4 248.1,323.4 248.1,324.6 248.8,324.6 248.8,323.5 249.4,323.5 249.4,324.0 250.1,324.0 250.1,324.5 250.7,324.5 250.7,324.5 251.4,324.5 251.4,323.2 252.0,323.2 252.0,323.3 252.7,323.3 252.7,323.3 253.3,323.3 253.3,324.1 254.0,324.1 254.0,323.9 254.6,323.9 254.6,324.0 255.3,324.0 255.3,323.8 255.9,323.8 255.9,323.5 256.6,323.5 256.6,324.5 257.2,324.5 257.2,324.5 257.9,324.5 257.9,324.0 258.5,324.0 258.5,323.8 259.2,323.8 259.2,323.6 259.8,323.6 259.8,324.2 260.5,324.2 260.5,324.5 261.1,324.5 261.1,324.0 261.8,324.0 261.8,323.5 262.4,323.5 262.4,323.6 263.1,323.6 263.1,323.8 263.7,323.8 263.7,324.1 264.4,324.1 264.4,324.2 265.0,324.2 265.0,323.8 265.7,323.8 265.7,323.9 266.3,323.9 266.3,324.6 267.0,324.6 267.0,323.2 267.6,323.2 267.6,324.1 268.3,324.1 268.3,324.6 268.9,324.6 268.9,323.7 269.6,323.7 269.6,323.7 270.2,323.7 270.2,324.2 270.9,324.2 270.9,323.7 271.5,323.7 271.5,324.1 272.2,324.1 272.2,323.8 272.8,323.8 272.8,323.4 273.5,323.4 273.5,323.8 274.1,323.8 274.1,323.8 274.8,323.8 274.8,324.6 275.4,324.6 275.4,324.2 276.1,324.2 276.1,324.6 276.7,324.6 276.7,324.6 277.4,324.6 277.4,324.5 278.0,324.5 278.0,323.8 278.7,323.8 278.7,324.4 279.3,324.4 279.3,323.9 280.0,323.9 280.0,324.6 280.6,324.6 280.6,324.2 281.3,324.2 281.3,324.6 281.9,324.6 281.9,324.2 282.6,324.2 282.6,323.6 283.0,323.6 283.0,324.0" fill="none" stroke="#f80a0a" stroke-width="2.2" stroke-linejoin="miter"/>
<line x1="119.8" y1="229.9" x2="284.5" y2="229.9" stroke="#000" stroke-width="1.9"/>
<line x1="283.5" y1="229.9" x2="283.5" y2="325.6" stroke="#000" stroke-width="2"/>
<line x1="121.3" y1="324.6" x2="284.5" y2="324.6" stroke="#000" stroke-width="2.2"/>
<path d="M127.3 324.6 v4.5 M130.8 324.6 v3.2 M134.2 324.6 v3.2 M137.6 324.6 v3.2 M141.1 324.6 v3.2 M144.5 324.6 v3.2 M148.0 324.6 v3.2 M151.4 324.6 v3.2 M154.9 324.6 v3.2 M158.3 324.6 v3.2 M161.8 324.6 v3.2 M165.2 324.6 v3.2 M168.7 324.6 v3.2 M172.1 324.6 v3.2 M175.6 324.6 v3.2 M179.0 324.6 v3.2 M182.5 324.6 v3.2 M185.9 324.6 v3.2 M189.4 324.6 v3.2 M192.8 324.6 v3.2 M196.3 324.6 v3.2 M199.7 324.6 v3.2 M203.2 324.6 v3.2 M206.6 324.6 v3.2 M210.1 324.6 v3.2 M213.5 324.6 v3.2 M217.0 324.6 v3.2 M220.4 324.6 v3.2 M223.9 324.6 v3.2 M227.3 324.6 v3.2 M230.8 324.6 v3.2 M234.2 324.6 v3.2 M237.7 324.6 v3.2 M241.1 324.6 v3.2 M244.6 324.6 v3.2 M248.0 324.6 v3.2 M251.5 324.6 v3.2 M254.9 324.6 v3.2 M258.4 324.6 v3.2 M261.8 324.6 v3.2 M265.3 324.6 v3.2 M268.7 324.6 v3.2 M272.2 324.6 v3.2 M275.6 324.6 v3.2 M279.1 324.6 v3.2 M282.5 324.6 v3.2 M283.5 324.6 v4.5 M127.3 324.6 v4.5 M166.3 324.6 v4.5 M205.4 324.6 v4.5 M244.4 324.6 v4.5 M283.5 324.6 v4.5" stroke="#000" stroke-width="1.3"/>
<path d="M122.5 324.6 h4.8 M124.1 321.5 h3.2 M124.1 318.5 h3.2 M124.1 315.4 h3.2 M124.1 312.3 h3.2 M122.5 309.2 h4.8 M124.1 306.2 h3.2 M124.1 303.1 h3.2 M124.1 300.0 h3.2 M124.1 296.9 h3.2 M122.5 293.9 h4.8 M124.1 290.8 h3.2 M124.1 287.7 h3.2 M124.1 284.6 h3.2 M124.1 281.6 h3.2 M122.5 278.5 h4.8 M124.1 275.4 h3.2 M124.1 272.4 h3.2 M124.1 269.3 h3.2 M124.1 266.2 h3.2 M122.5 263.1 h4.8 M124.1 260.1 h3.2 M124.1 257.0 h3.2 M124.1 253.9 h3.2 M124.1 250.8 h3.2 M122.5 247.8 h4.8 M124.1 244.7 h3.2 M124.1 241.6 h3.2 M124.1 238.5 h3.2 M124.1 235.5 h3.2 M122.5 232.4 h4.8" stroke="#000" stroke-width="1.3"/>
<line x1="127.3" y1="230.4" x2="127.3" y2="324.6" stroke="#e0101e" stroke-width="2.9"/>
<line x1="177.7" y1="264.5" x2="177.7" y2="283.5" stroke="#000" stroke-width="2"/>
<line x1="177.7" y1="274.8" x2="283.5" y2="274.8" stroke="#d4d4d4" stroke-width="1.2"/>
<line x1="188.7" y1="274.8" x2="283.5" y2="274.8" stroke="#666" stroke-width="1.3" stroke-dasharray="11 9"/>
<text x="231.9" y="269.2" text-anchor="middle" font-family="Liberation Serif" font-size="19.9" stroke="#000" stroke-width="0.35">21.3%</text>
<text transform="translate(117.8,233.5) rotate(-90)" font-family="Liberation Sans" font-weight="bold" font-size="12.6" text-anchor="middle">20</text>
<text transform="translate(117.5,324.1) rotate(-90)" font-family="Liberation Sans" font-weight="bold" font-size="11" text-anchor="middle">0</text>
<text x="117.1" y="341.6" font-family="Liberation Sans" font-weight="bold" font-size="11">10<tspan dx="0.6" dy="-6" font-size="9.5">0</tspan></text>
<text x="156.2" y="341.6" font-family="Liberation Sans" font-weight="bold" font-size="11">10<tspan dx="0.6" dy="-6" font-size="9.5">1</tspan></text>
<text x="195.2" y="341.6" font-family="Liberation Sans" font-weight="bold" font-size="11">10<tspan dx="0.6" dy="-6" font-size="9.5">2</tspan></text>
<text x="234.2" y="341.6" font-family="Liberation Sans" font-weight="bold" font-size="11">10<tspan dx="0.6" dy="-6" font-size="9.5">3</tspan></text>
<text x="273.3" y="341.6" font-family="Liberation Sans" font-weight="bold" font-size="11">10<tspan dx="0.6" dy="-6" font-size="9.5">4</tspan></text>
<polygon points="347.2,327.8 347.2,302.5 348.2,302.5 348.8,299.5 349.5,299.5 350.1,297.2 350.8,298.5 351.4,296.6 352.1,301.6 352.7,300.4 353.4,299.2 354.0,298.5 354.7,297.9 355.3,297.3 356.0,290.7 356.6,292.8 357.3,289.9 357.9,295.8 358.6,296.7 359.2,297.6 359.9,298.5 360.5,299.1 361.2,299.8 361.8,300.4 362.5,301.1 363.1,302.8 363.8,299.3 364.4,301.3 365.1,305.3 365.7,308.0 366.4,305.1 367.0,304.9 367.7,307.0 368.3,304.9 369.0,306.6 369.6,304.4 370.3,305.1 370.9,305.1 371.6,306.6 372.2,307.9 372.9,310.1 373.5,307.9 374.2,310.6 374.8,311.2 375.5,309.1 376.1,309.9 376.8,311.6 377.4,310.0 378.1,311.4 378.7,312.7 379.4,312.9 380.0,315.3 380.7,315.7 381.3,316.8 382.0,312.3 382.6,317.8 383.3,318.0 383.9,318.3 384.6,315.4 385.2,315.7 385.9,317.0 386.5,314.5 387.2,315.0 387.8,318.7 388.5,317.2 389.1,319.7 389.8,321.2 390.4,321.2 391.1,321.2 391.7,322.3 392.4,322.4 393.0,322.5 393.7,322.8 394.3,324.5 395.0,323.0 395.6,324.5 396.3,323.0 396.9,322.9 397.6,322.4 398.2,327.8 398.2,327.8" fill="#40ff00"/>
<polyline points="348.3,298.9 348.9,298.9 348.9,298.9 349.6,298.9 349.6,296.6 350.2,296.6 350.2,297.9 350.9,297.9 350.9,296.0 351.5,296.0 351.5,291.7 352.2,291.7 352.2,291.9 352.8,291.9 352.8,289.5 353.5,289.5 353.5,286.8 354.1,286.8 354.1,286.8 354.8,286.8 354.8,286.4 355.4,286.4 355.4,290.1 356.1,290.1 356.1,292.2 356.7,292.2 356.7,289.3 357.4,289.3 357.4,282.5 358.0,282.5 358.0,285.0 358.7,285.0 358.7,283.2 359.3,283.2 359.3,284.1 360.0,284.1 360.0,285.6 360.6,285.6 360.6,287.4 361.3,287.4 361.3,288.8 361.9,288.8 361.9,288.5 362.6,288.5 362.6,289.9 363.2,289.9 363.2,298.7 363.9,298.7 363.9,300.7 364.5,300.7 364.5,304.7 365.2,304.7 365.2,307.4 365.8,307.4 365.8,304.5 366.5,304.5 366.5,304.3 367.1,304.3 367.1,306.4 367.8,306.4 367.8,304.3 368.4,304.3 368.4,306.0 369.1,306.0 369.1,303.8 369.7,303.8 369.7,304.5 370.4,304.5 370.4,304.5 371.0,304.5 371.0,306.0 371.7,306.0 371.7,307.3 372.3,307.3 372.3,309.5 373.0,309.5 373.0,307.3 373.6,307.3 373.6,310.0 374.3,310.0 374.3,310.6 374.9,310.6 374.9,308.5 375.6,308.5 375.6,309.3 376.2,309.3 376.2,311.0 376.9,311.0 376.9,309.4 377.5,309.4 377.5,310.8 378.2,310.8 378.2,312.1 378.8,312.1 378.8,312.3 379.5,312.3 379.5,314.7 380.1,314.7 380.1,315.1 380.8,315.1 380.8,316.2 381.4,316.2 381.4,311.7 382.1,311.7 382.1,308.2 382.7,308.2 382.7,307.3 383.4,307.3 383.4,308.8 384.0,308.8 384.0,314.8 384.7,314.8 384.7,315.1 385.3,315.1 385.3,316.4 386.0,316.4 386.0,313.9 386.6,313.9 386.6,314.4 387.3,314.4 387.3,318.1 387.9,318.1 387.9,316.6 388.6,316.6 388.6,319.1 389.2,319.1 389.2,320.6 389.9,320.6 389.9,320.6 390.5,320.6 390.5,320.6 391.2,320.6 391.2,321.7 391.8,321.7 391.8,321.8 392.5,321.8 392.5,321.9 393.1,321.9 393.1,322.2 393.8,322.2 393.8,323.9 394.4,323.9 394.4,322.4 395.1,322.4 395.1,323.9 395.7,323.9 395.7,322.4 396.4,322.4 396.4,322.3 397.0,322.3 397.0,321.8 397.7,321.8 397.7,321.6 398.3,321.6 398.3,320.6 399.0,320.6 399.0,321.7 399.6,321.7 399.6,323.5 400.3,323.5 400.3,325.2 400.9,325.2 400.9,324.8 401.6,324.8 401.6,324.7 402.2,324.7 402.2,325.7 402.9,325.7 402.9,325.5 403.5,325.5 403.5,326.4 404.2,326.4 404.2,325.5 404.8,325.5 404.8,326.1 405.5,326.1 405.5,325.6 406.1,325.6 406.1,325.5 406.8,325.5 406.8,326.1 407.4,326.1 407.4,325.5 408.1,325.5 408.1,325.7 408.7,325.7 408.7,326.0 409.4,326.0 409.4,325.4 410.0,325.4 410.0,326.0 410.7,326.0 410.7,325.8 411.3,325.8 411.3,324.9 412.0,324.9 412.0,326.1 412.6,326.1 412.6,325.0 413.3,325.0 413.3,325.8 413.9,325.8 413.9,326.2 414.6,326.2 414.6,326.3 415.2,326.3 415.2,325.4 415.9,325.4 415.9,325.4 416.5,325.4 416.5,326.6 417.2,326.6 417.2,326.0 417.8,326.0 417.8,326.1 418.5,326.1 418.5,326.9 419.1,326.9 419.1,326.6 419.8,326.6 419.8,326.4 420.0,326.4 420.0,326.5" fill="none" stroke="#000" stroke-width="1.9" stroke-linejoin="miter"/>
<polyline points="348.2,299.3 348.8,299.3 348.8,298.5 349.5,298.5 349.5,299.0 350.1,299.0 350.1,298.2 350.8,298.2 350.8,296.9 351.4,296.9 351.4,295.7 352.1,295.7 352.1,292.1 352.7,292.1 352.7,293.1 353.4,293.1 353.4,288.9 354.0,288.9 354.0,284.4 354.7,284.4 354.7,280.1 355.3,280.1 355.3,283.0 356.0,283.0 356.0,280.4 356.6,280.4 356.6,286.7 357.3,286.7 357.3,290.4 357.9,290.4 357.9,287.9 358.6,287.9 358.6,290.6 359.2,290.6 359.2,289.1 359.9,289.1 359.9,287.3 360.5,287.3 360.5,288.8 361.2,288.8 361.2,292.0 361.8,292.0 361.8,293.1 362.5,293.1 362.5,292.8 363.1,292.8 363.1,293.7 363.8,293.7 363.8,293.4 364.4,293.4 364.4,294.2 365.1,294.2 365.1,295.9 365.7,295.9 365.7,295.5 366.4,295.5 366.4,294.1 367.0,294.1 367.0,297.3 367.7,297.3 367.7,295.1 368.3,295.1 368.3,301.4 369.0,301.4 369.0,295.7 369.6,295.7 369.6,297.7 370.3,297.7 370.3,297.0 370.9,297.0 370.9,300.8 371.6,300.8 371.6,301.8 372.2,301.8 372.2,300.2 372.9,300.2 372.9,299.7 373.5,299.7 373.5,301.4 374.2,301.4 374.2,306.0 374.8,306.0 374.8,303.9 375.5,303.9 375.5,302.9 376.1,302.9 376.1,308.3 376.8,308.3 376.8,304.0 377.4,304.0 377.4,310.4 378.1,310.4 378.1,304.9 378.7,304.9 378.7,311.0 379.4,311.0 379.4,306.3 380.0,306.3 380.0,307.2 380.7,307.2 380.7,313.1 381.3,313.1 381.3,311.4 382.0,311.4 382.0,311.3 382.6,311.3 382.6,310.1 383.3,310.1 383.3,309.1 383.9,309.1 383.9,306.4 384.6,306.4 384.6,311.4 385.2,311.4 385.2,306.7 385.9,306.7 385.9,310.8 386.5,310.8 386.5,307.5 387.2,307.5 387.2,309.2 387.8,309.2 387.8,307.5 388.5,307.5 388.5,305.9 389.1,305.9 389.1,304.9 389.8,304.9 389.8,306.1 390.4,306.1 390.4,310.0 391.1,310.0 391.1,303.1 391.7,303.1 391.7,306.7 392.4,306.7 392.4,308.0 393.0,308.0 393.0,308.0 393.7,308.0 393.7,310.1 394.3,310.1 394.3,310.5 395.0,310.5 395.0,316.0 395.6,316.0 395.6,315.1 396.3,315.1 396.3,310.2 396.9,310.2 396.9,310.9 397.6,310.9 397.6,311.8 398.2,311.8 398.2,310.4 398.9,310.4 398.9,306.2 399.5,306.2 399.5,307.5 400.2,307.5 400.2,307.7 400.8,307.7 400.8,305.7 401.5,305.7 401.5,306.5 402.1,306.5 402.1,300.4 402.8,300.4 402.8,297.5 403.4,297.5 403.4,297.5 404.1,297.5 404.1,303.9 404.7,303.9 404.7,313.0 405.4,313.0 405.4,314.1 406.0,314.1 406.0,310.8 406.7,310.8 406.7,311.4 407.3,311.4 407.3,308.2 408.0,308.2 408.0,310.2 408.6,310.2 408.6,306.4 409.3,306.4 409.3,313.2 409.9,313.2 409.9,314.1 410.6,314.1 410.6,319.2 411.2,319.2 411.2,315.9 411.9,315.9 411.9,314.0 412.5,314.0 412.5,314.7 413.2,314.7 413.2,318.8 413.8,318.8 413.8,315.3 414.5,315.3 414.5,317.1 415.1,317.1 415.1,316.7 415.8,316.7 415.8,317.4 416.4,317.4 416.4,319.4 417.1,319.4 417.1,316.3 417.7,316.3 417.7,316.4 418.4,316.4 418.4,320.3 419.0,320.3 419.0,320.7 419.7,320.7 419.7,322.0 420.3,322.0 420.3,318.9 421.0,318.9 421.0,321.7 421.6,321.7 421.6,323.7 422.3,323.7 422.3,320.8 422.9,320.8 422.9,323.3 423.6,323.3 423.6,324.1 424.2,324.1 424.2,321.8 424.9,321.8 424.9,322.0 425.5,322.0 425.5,323.3 426.2,323.3 426.2,322.6 426.8,322.6 426.8,321.5 427.5,321.5 427.5,324.8 428.1,324.8 428.1,324.1 428.8,324.1 428.8,323.4 429.4,323.4 429.4,323.8 430.1,323.8 430.1,325.2 430.7,325.2 430.7,324.7 431.4,324.7 431.4,323.9 432.0,323.9 432.0,323.9 432.7,323.9 432.7,324.4 433.3,324.4 433.3,323.1 434.0,323.1 434.0,324.0 434.6,324.0 434.6,325.2 435.3,325.2 435.3,324.6 435.9,324.6 435.9,324.3 436.6,324.3 436.6,325.1 437.2,325.1 437.2,324.3 437.9,324.3 437.9,325.9 438.5,325.9 438.5,327.4 439.2,327.4 439.2,326.4 439.8,326.4 439.8,326.9 440.5,326.9 440.5,327.1 441.1,327.1 441.1,327.4 441.8,327.4 441.8,326.9 442.4,326.9 442.4,327.2 443.1,327.2 443.1,327.6 443.7,327.6 443.7,326.4 444.4,326.4 444.4,326.4 445.0,326.4 445.0,326.9 445.7,326.9 445.7,326.4 446.3,326.4 446.3,327.5 447.0,327.5 447.0,326.6 447.6,326.6 447.6,326.3 448.3,326.3 448.3,327.0 448.9,327.0 448.9,326.2 449.6,326.2 449.6,327.3 450.2,327.3 450.2,326.8 450.9,326.8 450.9,327.0 451.5,327.0 451.5,327.2 452.2,327.2 452.2,326.1 452.8,326.1 452.8,326.1 453.5,326.1 453.5,326.4 454.1,326.4 454.1,326.7 454.8,326.7 454.8,327.3 455.4,327.3 455.4,326.3 456.1,326.3 456.1,326.6 456.7,326.6 456.7,325.7 457.4,325.7 457.4,327.2 458.0,327.2 458.0,327.5 458.7,327.5 458.7,326.9 459.3,326.9 459.3,326.6 460.0,326.6 460.0,325.8 460.6,325.8 460.6,326.3 461.3,326.3 461.3,327.3 461.9,327.3 461.9,326.1 462.6,326.1 462.6,326.6 463.2,326.6 463.2,326.2 463.9,326.2 463.9,326.2 464.5,326.2 464.5,327.4 465.2,327.4 465.2,327.5 465.8,327.5 465.8,326.9 466.5,326.9 466.5,327.4 467.1,327.4 467.1,326.7 467.8,326.7 467.8,326.9 468.4,326.9 468.4,326.8 469.1,326.8 469.1,326.5 469.7,326.5 469.7,326.6 470.4,326.6 470.4,325.9 471.0,325.9 471.0,327.1 471.7,327.1 471.7,325.8 472.3,325.8 472.3,327.7 473.0,327.7 473.0,326.3 473.6,326.3 473.6,326.4 474.3,326.4 474.3,326.9 474.9,326.9 474.9,325.8 475.6,325.8 475.6,326.8 476.2,326.8 476.2,327.2 476.9,327.2 476.9,325.7 477.5,325.7 477.5,327.4 478.2,327.4 478.2,325.8 478.8,325.8 478.8,327.6 479.5,327.6 479.5,327.6 480.1,327.6 480.1,326.2 480.8,326.2 480.8,327.6 481.4,327.6 481.4,325.9 482.1,325.9 482.1,325.9 482.7,325.9 482.7,327.6 483.4,327.6 483.4,327.7 484.0,327.7 484.0,326.9 484.7,326.9 484.7,327.7 485.3,327.7 485.3,327.6 486.0,327.6 486.0,327.0 486.6,327.0 486.6,326.2 487.3,326.2 487.3,327.1 487.9,327.1 487.9,327.6 488.6,327.6 488.6,327.3 489.2,327.3 489.2,327.5 489.9,327.5 489.9,327.7 490.5,327.7 490.5,327.6 491.2,327.6 491.2,327.4 491.8,327.4 491.8,327.6 492.5,327.6 492.5,327.2 493.1,327.2 493.1,327.0 493.8,327.0 493.8,326.4 494.4,326.4 494.4,326.0 495.1,326.0 495.1,326.1 495.7,326.1 495.7,327.4 496.4,327.4 496.4,327.7 497.0,327.7 497.0,326.4 497.7,326.4 497.7,326.3 498.3,326.3 498.3,325.9 499.0,325.9 499.0,326.6 499.6,326.6 499.6,326.0 500.3,326.0 500.3,327.0 500.9,327.0 500.9,325.9 501.6,325.9 501.6,326.6 502.2,326.6 502.2,325.9 502.9,325.9 502.9,325.9 503.5,325.9 503.5,327.3 504.2,327.3 504.2,326.8 504.8,326.8 504.8,326.2 505.5,326.2 505.5,327.5 506.1,327.5 506.1,326.8 506.8,326.8 506.8,327.6 507.4,327.6 507.4,326.3 508.1,326.3 508.1,326.0 508.7,326.0 508.7,326.9 509.4,326.9 509.4,326.1 510.0,326.1 510.0,326.8" fill="none" stroke="#f80a0a" stroke-width="2.2" stroke-linejoin="miter"/>
<line x1="339.2" y1="233.3" x2="511" y2="233.3" stroke="#000" stroke-width="1.9"/>
<line x1="510" y1="233.3" x2="510" y2="328.8" stroke="#000" stroke-width="2"/>
<line x1="340.7" y1="327.8" x2="511" y2="327.8" stroke="#000" stroke-width="2.2"/>
<path d="M346.7 327.8 v4.5 M350.1 327.8 v3.2 M353.6 327.8 v3.2 M357.0 327.8 v3.2 M360.5 327.8 v3.2 M363.9 327.8 v3.2 M367.4 327.8 v3.2 M370.8 327.8 v3.2 M374.3 327.8 v3.2 M377.7 327.8 v3.2 M381.2 327.8 v3.2 M384.6 327.8 v3.2 M388.1 327.8 v3.2 M391.5 327.8 v3.2 M395.0 327.8 v3.2 M398.4 327.8 v3.2 M401.9 327.8 v3.2 M405.3 327.8 v3.2 M408.8 327.8 v3.2 M412.2 327.8 v3.2 M415.7 327.8 v3.2 M419.1 327.8 v3.2 M422.6 327.8 v3.2 M426.0 327.8 v3.2 M429.5 327.8 v3.2 M432.9 327.8 v3.2 M436.4 327.8 v3.2 M439.8 327.8 v3.2 M443.3 327.8 v3.2 M446.7 327.8 v3.2 M450.2 327.8 v3.2 M453.6 327.8 v3.2 M457.1 327.8 v3.2 M460.5 327.8 v3.2 M464.0 327.8 v3.2 M467.4 327.8 v3.2 M470.9 327.8 v3.2 M474.3 327.8 v3.2 M477.8 327.8 v3.2 M481.2 327.8 v3.2 M484.7 327.8 v3.2 M488.1 327.8 v3.2 M491.6 327.8 v3.2 M495.0 327.8 v3.2 M498.5 327.8 v3.2 M501.9 327.8 v3.2 M505.4 327.8 v3.2 M508.8 327.8 v3.2 M510.0 327.8 v4.5 M346.7 327.8 v4.5 M387.5 327.8 v4.5 M428.4 327.8 v4.5 M469.2 327.8 v4.5 M510.0 327.8 v4.5" stroke="#000" stroke-width="1.3"/>
<path d="M341.9 327.8 h4.8 M343.5 324.7 h3.2 M343.5 321.7 h3.2 M343.5 318.6 h3.2 M343.5 315.5 h3.2 M341.9 312.5 h4.8 M343.5 309.4 h3.2 M343.5 306.3 h3.2 M343.5 303.3 h3.2 M343.5 300.2 h3.2 M341.9 297.1 h4.8 M343.5 294.1 h3.2 M343.5 291.0 h3.2 M343.5 287.9 h3.2 M343.5 284.9 h3.2 M341.9 281.8 h4.8 M343.5 278.7 h3.2 M343.5 275.7 h3.2 M343.5 272.6 h3.2 M343.5 269.5 h3.2 M341.9 266.5 h4.8 M343.5 263.4 h3.2 M343.5 260.3 h3.2 M343.5 257.3 h3.2 M343.5 254.2 h3.2 M341.9 251.1 h4.8 M343.5 248.1 h3.2 M343.5 245.0 h3.2 M343.5 241.9 h3.2 M343.5 238.9 h3.2 M341.9 235.8 h4.8" stroke="#000" stroke-width="1.3"/>
<line x1="346.7" y1="233.8" x2="346.7" y2="327.8" stroke="#e0101e" stroke-width="2.9"/>
<line x1="385" y1="269.3" x2="385" y2="286" stroke="#000" stroke-width="2"/>
<line x1="385" y1="277.7" x2="510" y2="277.7" stroke="#d4d4d4" stroke-width="1.2"/>
<line x1="388" y1="277.7" x2="510" y2="277.7" stroke="#999" stroke-width="1.3" stroke-dasharray="11 9"/>
<text x="451.2" y="271.6" text-anchor="middle" font-family="Liberation Serif" font-size="19.9" stroke="#000" stroke-width="0.35">26.6%</text>
<text transform="translate(337.2,234.70000000000002) rotate(-90)" font-family="Liberation Sans" font-weight="bold" font-size="12.6" text-anchor="middle">20</text>
<text transform="translate(336.9,327.3) rotate(-90)" font-family="Liberation Sans" font-weight="bold" font-size="11" text-anchor="middle">0</text>
<text x="336.5" y="344.5" font-family="Liberation Sans" font-weight="bold" font-size="11">10<tspan dx="0.6" dy="-6" font-size="9.5">0</tspan></text>
<text x="377.3" y="344.5" font-family="Liberation Sans" font-weight="bold" font-size="11">10<tspan dx="0.6" dy="-6" font-size="9.5">1</tspan></text>
<text x="418.2" y="344.5" font-family="Liberation Sans" font-weight="bold" font-size="11">10<tspan dx="0.6" dy="-6" font-size="9.5">2</tspan></text>
<text x="459.0" y="344.5" font-family="Liberation Sans" font-weight="bold" font-size="11">10<tspan dx="0.6" dy="-6" font-size="9.5">3</tspan></text>
<text x="499.8" y="344.5" font-family="Liberation Sans" font-weight="bold" font-size="11">10<tspan dx="0.6" dy="-6" font-size="9.5">4</tspan></text>
<polygon points="128.5,504.5 128.5,474.6 129.2,474.6 129.8,468.7 130.5,470.2 131.2,468.4 131.8,463.6 132.5,464.6 133.1,457.7 133.8,462.8 134.4,461.8 135.1,461.1 135.7,463.9 136.4,469.6 137.0,465.4 137.7,463.4 138.3,458.4 139.0,453.4 139.6,448.0 140.3,451.0 140.9,451.4 141.6,452.1 142.2,449.6 142.9,451.5 143.5,457.6 144.2,460.4 144.8,461.9 145.5,465.4 146.1,469.8 146.8,468.1 147.4,468.3 148.1,467.9 148.7,466.6 149.4,464.8 150.0,469.0 150.7,463.3 151.3,467.8 152.0,471.9 152.6,476.1 153.3,477.2 153.9,474.6 154.6,470.1 155.2,473.8 155.9,475.8 156.5,476.2 157.2,477.6 157.8,478.4 158.5,476.2 159.1,482.6 159.8,483.6 160.4,484.9 161.1,482.6 161.7,482.5 162.4,484.9 163.0,487.1 163.7,488.7 164.3,487.3 165.0,490.3 165.6,491.2 166.3,489.9 166.9,489.0 167.6,490.8 168.2,491.2 168.9,494.0 169.5,494.5 170.2,494.3 170.8,492.8 171.5,493.6 172.1,492.5 172.8,495.7 173.4,492.5 174.1,494.8 174.7,494.5 175.4,496.8 176.0,496.3 176.7,498.2 177.3,497.1 178.0,496.1 178.6,495.2 179.3,495.4 179.9,498.0 180.6,498.3 181.2,499.5 181.9,500.5 182.5,501.7 183.2,502.4 183.8,502.2 184.5,501.8 185.1,503.3 185.8,502.7 186.0,504.5 186.0,504.5" fill="#40ff00"/>
<polyline points="129.2,463.4 129.8,463.4 129.8,468.1 130.5,468.1 130.5,469.6 131.2,469.6 131.2,467.8 131.8,467.8 131.8,463.0 132.5,463.0 132.5,464.0 133.1,464.0 133.1,457.1 133.8,457.1 133.8,454.7 134.4,454.7 134.4,461.2 135.1,461.2 135.1,460.5 135.7,460.5 135.7,463.3 136.4,463.3 136.4,469.0 137.0,469.0 137.0,464.8 137.7,464.8 137.7,462.8 138.3,462.8 138.3,457.8 139.0,457.8 139.0,452.8 139.6,452.8 139.6,447.4 140.3,447.4 140.3,440.8 140.9,440.8 140.9,444.0 141.6,444.0 141.6,444.9 142.2,444.9 142.2,449.0 142.9,449.0 142.9,450.9 143.5,450.9 143.5,457.0 144.2,457.0 144.2,459.8 144.8,459.8 144.8,461.3 145.5,461.3 145.5,464.8 146.1,464.8 146.1,469.2 146.8,469.2 146.8,467.5 147.4,467.5 147.4,467.7 148.1,467.7 148.1,467.3 148.7,467.3 148.7,466.0 149.4,466.0 149.4,464.2 150.0,464.2 150.0,461.8 150.7,461.8 150.7,462.7 151.3,462.7 151.3,467.2 152.0,467.2 152.0,471.3 152.6,471.3 152.6,475.5 153.3,475.5 153.3,476.6 153.9,476.6 153.9,474.0 154.6,474.0 154.6,469.5 155.2,469.5 155.2,473.2 155.9,473.2 155.9,475.2 156.5,475.2 156.5,475.6 157.2,475.6 157.2,477.0 157.8,477.0 157.8,477.8 158.5,477.8 158.5,475.6 159.1,475.6 159.1,473.4 159.8,473.4 159.8,469.9 160.4,469.9 160.4,473.8 161.1,473.8 161.1,482.0 161.7,482.0 161.7,481.9 162.4,481.9 162.4,484.3 163.0,484.3 163.0,486.5 163.7,486.5 163.7,488.1 164.3,488.1 164.3,486.7 165.0,486.7 165.0,489.7 165.6,489.7 165.6,490.6 166.3,490.6 166.3,489.3 166.9,489.3 166.9,488.4 167.6,488.4 167.6,490.2 168.2,490.2 168.2,490.6 168.9,490.6 168.9,493.4 169.5,493.4 169.5,493.9 170.2,493.9 170.2,493.7 170.8,493.7 170.8,492.2 171.5,492.2 171.5,493.0 172.1,493.0 172.1,491.9 172.8,491.9 172.8,495.1 173.4,495.1 173.4,491.9 174.1,491.9 174.1,494.2 174.7,494.2 174.7,493.9 175.4,493.9 175.4,496.2 176.0,496.2 176.0,495.7 176.7,495.7 176.7,497.6 177.3,497.6 177.3,496.5 178.0,496.5 178.0,495.5 178.6,495.5 178.6,494.6 179.3,494.6 179.3,494.8 179.9,494.8 179.9,497.4 180.6,497.4 180.6,497.7 181.2,497.7 181.2,498.9 181.9,498.9 181.9,499.9 182.5,499.9 182.5,501.1 183.2,501.1 183.2,501.8 183.8,501.8 183.8,501.6 184.5,501.6 184.5,501.2 185.1,501.2 185.1,502.7 185.8,502.7 185.8,502.1 186.4,502.1 186.4,502.2 187.1,502.2 187.1,503.0 187.7,503.0 187.7,502.0 188.4,502.0 188.4,502.9 189.0,502.9 189.0,502.4 189.7,502.4 189.7,501.9 190.3,501.9 190.3,502.1 191.0,502.1 191.0,501.9 191.6,501.9 191.6,502.4 192.3,502.4 192.3,502.2 192.9,502.2 192.9,502.5 193.6,502.5 193.6,502.2 194.2,502.2 194.2,502.7 194.9,502.7 194.9,502.7 195.5,502.7 195.5,503.5 196.2,503.5 196.2,502.9 196.8,502.9 196.8,503.2 197.5,503.2 197.5,503.6 198.1,503.6 198.1,503.5 198.8,503.5 198.8,503.1 199.4,503.1 199.4,503.8 200.1,503.8 200.1,503.9 200.7,503.9 200.7,503.1 201.4,503.1 201.4,503.7 202.0,503.7 202.0,503.2 202.7,503.2 202.7,503.6 203.3,503.6 203.3,503.5 204.0,503.5 204.0,503.3 204.6,503.3 204.6,503.8 205.3,503.8 205.3,503.2 205.9,503.2 205.9,503.0 206.6,503.0 206.6,503.6 207.2,503.6 207.2,503.0 207.9,503.0 207.9,503.6 208.5,503.6 208.5,503.1 209.2,503.1 209.2,503.0 209.8,503.0 209.8,502.8 210.5,502.8 210.5,503.7 211.1,503.7 211.1,503.5 211.8,503.5 211.8,503.4 212.4,503.4 212.4,502.9 213.1,502.9 213.1,502.9 213.7,502.9 213.7,502.8 214.4,502.8 214.4,503.6 215.0,503.6 215.0,503.3 215.7,503.3 215.7,502.5 216.3,502.5 216.3,503.0 217.0,503.0 217.0,502.4 217.6,502.4 217.6,503.0 218.3,503.0 218.3,503.0 218.9,503.0 218.9,503.1 219.6,503.1 219.6,503.6 220.2,503.6 220.2,502.9 220.9,502.9 220.9,503.6 221.5,503.6 221.5,502.9 222.2,502.9 222.2,503.6 222.8,503.6 222.8,503.5 223.5,503.5 223.5,503.8 224.1,503.8 224.1,503.1 224.8,503.1 224.8,503.3 225.4,503.3 225.4,503.3 226.1,503.3 226.1,503.2 226.7,503.2 226.7,502.9 227.4,502.9 227.4,503.2 228.0,503.2 228.0,503.5 228.7,503.5 228.7,503.4 229.3,503.4 229.3,503.9 230.0,503.9 230.0,503.8 230.0,503.8 230.0,503.5" fill="none" stroke="#000" stroke-width="1.9" stroke-linejoin="miter"/>
<polyline points="128.5,492.9 129.2,492.9 129.2,493.4 129.8,493.4 129.8,495.8 130.5,495.8 130.5,493.3 131.1,493.3 131.1,491.7 131.8,491.7 131.8,492.0 132.4,492.0 132.4,486.0 133.1,486.0 133.1,486.1 133.7,486.1 133.7,484.1 134.4,484.1 134.4,484.7 135.0,484.7 135.0,481.6 135.7,481.6 135.7,482.7 136.3,482.7 136.3,481.0 137.0,481.0 137.0,476.2 137.6,476.2 137.6,474.9 138.3,474.9 138.3,471.0 138.9,471.0 138.9,467.1 139.6,467.1 139.6,470.1 140.2,470.1 140.2,471.3 140.9,471.3 140.9,471.2 141.5,471.2 141.5,470.2 142.2,470.2 142.2,469.9 142.8,469.9 142.8,468.5 143.5,468.5 143.5,465.7 144.1,465.7 144.1,466.9 144.8,466.9 144.8,462.1 145.4,462.1 145.4,465.1 146.1,465.1 146.1,473.1 146.7,473.1 146.7,476.9 147.4,476.9 147.4,478.1 148.0,478.1 148.0,481.8 148.7,481.8 148.7,482.4 149.3,482.4 149.3,488.6 150.0,488.6 150.0,487.5 150.6,487.5 150.6,486.1 151.3,486.1 151.3,490.3 151.9,490.3 151.9,488.0 152.6,488.0 152.6,488.4 153.2,488.4 153.2,489.8 153.9,489.8 153.9,491.2 154.5,491.2 154.5,490.2 155.2,490.2 155.2,489.0 155.8,489.0 155.8,491.6 156.5,491.6 156.5,489.4 157.1,489.4 157.1,488.5 157.8,488.5 157.8,485.0 158.4,485.0 158.4,488.1 159.1,488.1 159.1,487.2 159.7,487.2 159.7,487.4 160.4,487.4 160.4,490.1 161.0,490.1 161.0,491.1 161.7,491.1 161.7,494.5 162.3,494.5 162.3,495.6 163.0,495.6 163.0,496.4 163.6,496.4 163.6,495.3 164.3,495.3 164.3,496.5 164.9,496.5 164.9,493.0 165.6,493.0 165.6,488.4 166.2,488.4 166.2,489.4 166.9,489.4 166.9,485.6 167.5,485.6 167.5,481.7 168.2,481.7 168.2,484.2 168.8,484.2 168.8,489.6 169.5,489.6 169.5,486.5 170.1,486.5 170.1,492.3 170.8,492.3 170.8,493.9 171.4,493.9 171.4,492.4 172.1,492.4 172.1,492.8 172.7,492.8 172.7,492.2 173.4,492.2 173.4,492.3 174.0,492.3 174.0,490.2 174.7,490.2 174.7,488.9 175.3,488.9 175.3,491.6 176.0,491.6 176.0,490.5 176.6,490.5 176.6,491.8 177.3,491.8 177.3,487.8 177.9,487.8 177.9,491.8 178.6,491.8 178.6,487.6 179.2,487.6 179.2,488.6 179.9,488.6 179.9,492.4 180.5,492.4 180.5,487.9 181.2,487.9 181.2,491.0 181.8,491.0 181.8,489.2 182.5,489.2 182.5,487.3 183.1,487.3 183.1,487.3 183.8,487.3 183.8,491.0 184.4,491.0 184.4,493.2 185.1,493.2 185.1,487.7 185.7,487.7 185.7,489.0 186.4,489.0 186.4,486.1 187.0,486.1 187.0,485.6 187.7,485.6 187.7,489.5 188.3,489.5 188.3,487.0 189.0,487.0 189.0,486.0 189.6,486.0 189.6,489.0 190.3,489.0 190.3,488.2 190.9,488.2 190.9,486.2 191.6,486.2 191.6,492.9 192.2,492.9 192.2,488.3 192.9,488.3 192.9,488.7 193.5,488.7 193.5,491.1 194.2,491.1 194.2,484.7 194.8,484.7 194.8,486.1 195.5,486.1 195.5,484.3 196.1,484.3 196.1,484.1 196.8,484.1 196.8,485.6 197.4,485.6 197.4,484.5 198.1,484.5 198.1,481.6 198.7,481.6 198.7,484.1 199.4,484.1 199.4,482.6 200.0,482.6 200.0,481.2 200.7,481.2 200.7,480.4 201.3,480.4 201.3,479.5 202.0,479.5 202.0,477.2 202.6,477.2 202.6,474.9 203.3,474.9 203.3,473.2 203.9,473.2 203.9,472.7 204.6,472.7 204.6,477.8 205.2,477.8 205.2,480.8 205.9,480.8 205.9,481.6 206.5,481.6 206.5,481.6 207.2,481.6 207.2,488.0 207.8,488.0 207.8,483.8 208.5,483.8 208.5,486.1 209.1,486.1 209.1,485.2 209.8,485.2 209.8,479.3 210.4,479.3 210.4,481.2 211.1,481.2 211.1,480.3 211.7,480.3 211.7,485.1 212.4,485.1 212.4,484.7 213.0,484.7 213.0,485.2 213.7,485.2 213.7,485.9 214.3,485.9 214.3,487.1 215.0,487.1 215.0,486.1 215.6,486.1 215.6,488.4 216.3,488.4 216.3,491.8 216.9,491.8 216.9,487.6 217.6,487.6 217.6,491.4 218.2,491.4 218.2,487.9 218.9,487.9 218.9,491.6 219.5,491.6 219.5,493.0 220.2,493.0 220.2,490.8 220.8,490.8 220.8,494.7 221.5,494.7 221.5,496.4 222.1,496.4 222.1,494.3 222.8,494.3 222.8,495.2 223.4,495.2 223.4,495.4 224.1,495.4 224.1,497.3 224.7,497.3 224.7,494.0 225.4,494.0 225.4,498.3 226.0,498.3 226.0,492.9 226.7,492.9 226.7,491.7 227.3,491.7 227.3,490.9 228.0,490.9 228.0,494.0 228.6,494.0 228.6,488.8 229.3,488.8 229.3,494.0 229.9,494.0 229.9,492.2 230.6,492.2 230.6,499.3 231.2,499.3 231.2,494.4 231.9,494.4 231.9,497.7 232.5,497.7 232.5,498.2 233.2,498.2 233.2,500.8 233.8,500.8 233.8,497.9 234.5,497.9 234.5,500.3 235.1,500.3 235.1,499.7 235.8,499.7 235.8,499.7 236.4,499.7 236.4,498.5 237.1,498.5 237.1,499.0 237.7,499.0 237.7,498.1 238.4,498.1 238.4,500.3 239.0,500.3 239.0,501.3 239.7,501.3 239.7,498.2 240.3,498.2 240.3,502.4 241.0,502.4 241.0,501.4 241.6,501.4 241.6,502.5 242.3,502.5 242.3,502.0 242.9,502.0 242.9,500.5 243.6,500.5 243.6,500.9 244.2,500.9 244.2,503.5 244.9,503.5 244.9,502.3 245.5,502.3 245.5,502.4 246.2,502.4 246.2,503.2 246.8,503.2 246.8,502.7 247.5,502.7 247.5,503.8 248.1,503.8 248.1,501.7 248.8,501.7 248.8,502.9 249.4,502.9 249.4,501.7 250.1,501.7 250.1,503.2 250.7,503.2 250.7,503.1 251.4,503.1 251.4,502.5 252.0,502.5 252.0,503.5 252.7,503.5 252.7,503.6 253.3,503.6 253.3,503.5 254.0,503.5 254.0,503.9 254.6,503.9 254.6,504.1 255.3,504.1 255.3,504.0 255.9,504.0 255.9,503.6 256.6,503.6 256.6,503.7 257.2,503.7 257.2,503.5 257.9,503.5 257.9,503.5 258.5,503.5 258.5,503.6 259.2,503.6 259.2,504.5 259.8,504.5 259.8,504.4 260.5,504.4 260.5,504.4 261.1,504.4 261.1,503.7 261.8,503.7 261.8,504.2 262.4,504.2 262.4,503.6 263.1,503.6 263.1,503.4 263.7,503.4 263.7,504.0 264.4,504.0 264.4,504.4 265.0,504.4 265.0,504.5 265.7,504.5 265.7,503.7 266.3,503.7 266.3,504.5 267.0,504.5 267.0,504.4 267.6,504.4 267.6,503.7 268.3,503.7 268.3,504.5 268.9,504.5 268.9,503.3 269.6,503.3 269.6,504.5 270.2,504.5 270.2,503.7 270.9,503.7 270.9,504.2 271.5,504.2 271.5,504.4 272.2,504.4 272.2,504.1 272.8,504.1 272.8,503.9 273.5,503.9 273.5,504.3 274.1,504.3 274.1,503.5 274.8,503.5 274.8,503.9 275.4,503.9 275.4,504.5 276.1,504.5 276.1,504.4 276.7,504.4 276.7,504.1 277.4,504.1 277.4,504.1 278.0,504.1 278.0,504.4 278.7,504.4 278.7,504.4 279.3,504.4 279.3,504.5 280.0,504.5 280.0,503.5 280.6,503.5 280.6,504.5 281.3,504.5 281.3,503.9 281.9,503.9 281.9,503.5 282.6,503.5 282.6,504.3 283.0,504.3 283.0,504.0" fill="none" stroke="#f80a0a" stroke-width="2.2" stroke-linejoin="miter"/>
<line x1="120.5" y1="408.6" x2="284.5" y2="408.6" stroke="#000" stroke-width="1.9"/>
<line x1="283.5" y1="408.6" x2="283.5" y2="505.5" stroke="#000" stroke-width="2"/>
<line x1="122" y1="504.5" x2="284.5" y2="504.5" stroke="#000" stroke-width="2.2"/>
<path d="M128.0 504.5 v4.5 M131.4 504.5 v3.2 M134.9 504.5 v3.2 M138.3 504.5 v3.2 M141.8 504.5 v3.2 M145.2 504.5 v3.2 M148.7 504.5 v3.2 M152.1 504.5 v3.2 M155.6 504.5 v3.2 M159.0 504.5 v3.2 M162.5 504.5 v3.2 M165.9 504.5 v3.2 M169.4 504.5 v3.2 M172.8 504.5 v3.2 M176.3 504.5 v3.2 M179.7 504.5 v3.2 M183.2 504.5 v3.2 M186.6 504.5 v3.2 M190.1 504.5 v3.2 M193.5 504.5 v3.2 M197.0 504.5 v3.2 M200.4 504.5 v3.2 M203.9 504.5 v3.2 M207.3 504.5 v3.2 M210.8 504.5 v3.2 M214.2 504.5 v3.2 M217.7 504.5 v3.2 M221.1 504.5 v3.2 M224.6 504.5 v3.2 M228.0 504.5 v3.2 M231.5 504.5 v3.2 M234.9 504.5 v3.2 M238.4 504.5 v3.2 M241.8 504.5 v3.2 M245.3 504.5 v3.2 M248.7 504.5 v3.2 M252.2 504.5 v3.2 M255.6 504.5 v3.2 M259.1 504.5 v3.2 M262.5 504.5 v3.2 M266.0 504.5 v3.2 M269.4 504.5 v3.2 M272.9 504.5 v3.2 M276.3 504.5 v3.2 M279.8 504.5 v3.2 M283.2 504.5 v3.2 M283.5 504.5 v4.5 M128.0 504.5 v4.5 M166.9 504.5 v4.5 M205.8 504.5 v4.5 M244.6 504.5 v4.5 M283.5 504.5 v4.5" stroke="#000" stroke-width="1.3"/>
<path d="M123.2 504.5 h4.8 M124.8 501.4 h3.2 M124.8 498.3 h3.2 M124.8 495.2 h3.2 M124.8 492.0 h3.2 M123.2 488.9 h4.8 M124.8 485.8 h3.2 M124.8 482.7 h3.2 M124.8 479.6 h3.2 M124.8 476.5 h3.2 M123.2 473.4 h4.8 M124.8 470.3 h3.2 M124.8 467.1 h3.2 M124.8 464.0 h3.2 M124.8 460.9 h3.2 M123.2 457.8 h4.8 M124.8 454.7 h3.2 M124.8 451.6 h3.2 M124.8 448.5 h3.2 M124.8 445.3 h3.2 M123.2 442.2 h4.8 M124.8 439.1 h3.2 M124.8 436.0 h3.2 M124.8 432.9 h3.2 M124.8 429.8 h3.2 M123.2 426.7 h4.8 M124.8 423.6 h3.2 M124.8 420.4 h3.2 M124.8 417.3 h3.2 M124.8 414.2 h3.2 M123.2 411.1 h4.8" stroke="#000" stroke-width="1.3"/>
<line x1="128" y1="409.1" x2="128" y2="504.5" stroke="#e0101e" stroke-width="2.9"/>
<line x1="177.5" y1="445.6" x2="177.5" y2="463.4" stroke="#000" stroke-width="2"/>
<line x1="177.5" y1="453.8" x2="283.5" y2="453.8" stroke="#d4d4d4" stroke-width="1.2"/>
<line x1="180.5" y1="453.8" x2="283.5" y2="453.8" stroke="#777" stroke-width="1.3" stroke-dasharray="11 9"/>
<text x="231.6" y="448.8" text-anchor="middle" font-family="Liberation Sans" font-size="17.9" stroke="#000" stroke-width="0.1">44.0%</text>
<text transform="translate(118.5,412.40000000000003) rotate(-90)" font-family="Liberation Sans" font-weight="bold" font-size="12.6" text-anchor="middle">20</text>
<text transform="translate(118.2,504.0) rotate(-90)" font-family="Liberation Sans" font-weight="bold" font-size="11" text-anchor="middle">0</text>
<text x="117.8" y="520.4" font-family="Liberation Sans" font-weight="bold" font-size="11">10<tspan dx="0.6" dy="-6" font-size="9.5">0</tspan></text>
<text x="156.7" y="520.4" font-family="Liberation Sans" font-weight="bold" font-size="11">10<tspan dx="0.6" dy="-6" font-size="9.5">1</tspan></text>
<text x="195.6" y="520.4" font-family="Liberation Sans" font-weight="bold" font-size="11">10<tspan dx="0.6" dy="-6" font-size="9.5">2</tspan></text>
<text x="234.4" y="520.4" font-family="Liberation Sans" font-weight="bold" font-size="11">10<tspan dx="0.6" dy="-6" font-size="9.5">3</tspan></text>
<text x="273.3" y="520.4" font-family="Liberation Sans" font-weight="bold" font-size="11">10<tspan dx="0.6" dy="-6" font-size="9.5">4</tspan></text>
<polygon points="347.3,504.0 347.3,490.6 348.3,490.6 348.9,488.7 349.6,486.7 350.2,478.6 350.9,482.8 351.5,480.7 352.2,478.7 352.8,476.3 353.5,473.7 354.1,471.1 354.8,469.3 355.4,468.5 356.1,467.6 356.7,464.4 357.4,468.6 358.0,465.5 358.7,471.1 359.3,471.8 360.0,472.4 360.6,473.1 361.3,473.8 361.9,475.0 362.6,476.3 363.2,471.7 363.9,475.6 364.5,480.0 365.2,481.5 365.8,479.6 366.5,479.5 367.1,481.8 367.8,479.9 368.4,481.9 369.1,486.7 369.7,481.1 370.4,481.9 371.0,484.4 371.7,486.0 372.3,488.0 373.0,485.5 373.6,487.7 374.3,488.0 374.9,485.4 375.6,486.4 376.2,488.8 376.9,488.1 377.5,490.3 378.2,492.1 378.8,492.6 379.5,493.9 380.1,492.7 380.8,493.7 381.4,491.2 382.1,489.7 382.7,490.4 383.4,490.6 384.0,491.3 384.7,492.4 385.3,494.3 386.0,492.1 386.6,492.8 387.3,496.5 387.9,494.8 388.6,496.5 389.2,497.4 389.9,496.8 390.5,496.7 391.2,498.2 391.8,498.5 392.5,499.0 393.1,499.4 393.8,500.5 394.4,497.8 395.1,498.6 395.7,497.1 396.4,497.5 397.0,498.4 397.7,499.3 398.3,499.3 399.0,500.1 399.6,500.9 400.3,502.0 400.9,501.4 401.0,504.0 401.0,504.0" fill="#40ff00"/>
<polyline points="348.3,476.2 348.9,476.2 348.9,477.1 349.6,477.1 349.6,475.7 350.2,475.7 350.2,478.0 350.9,478.0 350.9,474.8 351.5,474.8 351.5,468.9 352.2,468.9 352.2,467.4 352.8,467.4 352.8,464.9 353.5,464.9 353.5,461.7 354.1,461.7 354.1,461.4 354.8,461.4 354.8,461.0 355.4,461.0 355.4,461.0 356.1,461.0 356.1,459.7 356.7,459.7 356.7,463.8 357.4,463.8 357.4,460.7 358.0,460.7 358.0,464.9 358.7,464.9 358.7,460.9 359.3,460.9 359.3,458.1 360.0,458.1 360.0,459.0 360.6,459.0 360.6,460.5 361.3,460.5 361.3,461.4 361.9,461.4 361.9,461.1 362.6,461.1 362.6,462.3 363.2,462.3 363.2,471.1 363.9,471.1 363.9,475.0 364.5,475.0 364.5,479.4 365.2,479.4 365.2,480.9 365.8,480.9 365.8,479.0 366.5,479.0 366.5,478.9 367.1,478.9 367.1,481.2 367.8,481.2 367.8,479.3 368.4,479.3 368.4,481.3 369.1,481.3 369.1,479.5 369.7,479.5 369.7,480.5 370.4,480.5 370.4,481.3 371.0,481.3 371.0,483.8 371.7,483.8 371.7,485.4 372.3,485.4 372.3,487.4 373.0,487.4 373.0,484.9 373.6,484.9 373.6,487.1 374.3,487.1 374.3,487.4 374.9,487.4 374.9,484.8 375.6,484.8 375.6,485.8 376.2,485.8 376.2,488.2 376.9,488.2 376.9,487.5 377.5,487.5 377.5,489.7 378.2,489.7 378.2,491.5 378.8,491.5 378.8,492.0 379.5,492.0 379.5,493.3 380.1,493.3 380.1,492.1 380.8,492.1 380.8,493.1 381.4,493.1 381.4,490.6 382.1,490.6 382.1,489.1 382.7,489.1 382.7,489.8 383.4,489.8 383.4,490.0 384.0,490.0 384.0,490.7 384.7,490.7 384.7,491.8 385.3,491.8 385.3,493.7 386.0,493.7 386.0,491.5 386.6,491.5 386.6,492.2 387.3,492.2 387.3,495.9 387.9,495.9 387.9,494.2 388.6,494.2 388.6,495.9 389.2,495.9 389.2,496.8 389.9,496.8 389.9,496.2 390.5,496.2 390.5,496.1 391.2,496.1 391.2,497.6 391.8,497.6 391.8,497.9 392.5,497.9 392.5,498.4 393.1,498.4 393.1,498.8 393.8,498.8 393.8,499.9 394.4,499.9 394.4,497.2 395.1,497.2 395.1,498.0 395.7,498.0 395.7,496.5 396.4,496.5 396.4,496.9 397.0,496.9 397.0,497.8 397.7,497.8 397.7,498.7 398.3,498.7 398.3,498.7 399.0,498.7 399.0,499.5 399.6,499.5 399.6,500.3 400.3,500.3 400.3,501.4 400.9,501.4 400.9,500.8 401.6,500.8 401.6,500.4 402.2,500.4 402.2,501.3 402.9,501.3 402.9,500.9 403.5,500.9 403.5,502.1 404.2,502.1 404.2,501.4 404.8,501.4 404.8,502.2 405.5,502.2 405.5,501.8 406.1,501.8 406.1,501.6 406.8,501.6 406.8,502.2 407.4,502.2 407.4,501.6 408.1,501.6 408.1,501.7 408.7,501.7 408.7,502.0 409.4,502.0 409.4,501.4 410.0,501.4 410.0,502.0 410.7,502.0 410.7,501.8 411.3,501.8 411.3,500.9 412.0,500.9 412.0,502.2 412.6,502.2 412.6,501.0 413.3,501.0 413.3,501.8 413.9,501.8 413.9,502.2 414.6,502.2 414.6,502.4 415.2,502.4 415.2,501.3 415.9,501.3 415.9,501.4 416.5,501.4 416.5,502.6 417.2,502.6 417.2,501.9 417.8,501.9 417.8,502.1 418.5,502.1 418.5,502.9 419.1,502.9 419.1,502.6 419.8,502.6 419.8,502.3 420.0,502.3 420.0,502.5" fill="none" stroke="#000" stroke-width="1.9" stroke-linejoin="miter"/>
<polyline points="348.3,483.8 348.9,483.8 348.9,486.3 349.6,486.3 349.6,490.2 350.2,490.2 350.2,488.7 350.9,488.7 350.9,487.8 351.5,487.8 351.5,486.8 352.2,486.8 352.2,481.9 352.8,481.9 352.8,484.7 353.5,484.7 353.5,481.7 354.1,481.7 354.1,478.7 354.8,478.7 354.8,473.8 355.4,473.8 355.4,477.2 356.1,477.2 356.1,471.4 356.7,471.4 356.7,475.0 357.4,475.0 357.4,476.4 358.0,476.4 358.0,472.2 358.7,472.2 358.7,474.9 359.3,474.9 359.3,471.4 360.0,471.4 360.0,466.6 360.6,466.6 360.6,466.0 361.3,466.0 361.3,467.8 361.9,467.8 361.9,467.4 362.6,467.4 362.6,465.1 363.2,465.1 363.2,466.5 363.9,466.5 363.9,466.9 364.5,466.9 364.5,468.6 365.2,468.6 365.2,469.4 365.8,469.4 365.8,467.7 366.5,467.7 366.5,465.2 367.1,465.2 367.1,469.8 367.8,469.8 367.8,467.3 368.4,467.3 368.4,476.2 369.1,476.2 369.1,466.9 369.7,466.9 369.7,467.9 370.4,467.9 370.4,465.2 371.0,465.2 371.0,469.8 371.7,469.8 371.7,470.2 372.3,470.2 372.3,469.9 373.0,469.9 373.0,471.4 373.6,471.4 373.6,475.0 374.3,475.0 374.3,481.5 374.9,481.5 374.9,479.4 375.6,479.4 375.6,478.3 376.2,478.3 376.2,485.2 376.9,485.2 376.9,479.2 377.5,479.2 377.5,487.1 378.2,487.1 378.2,478.5 378.8,478.5 378.8,485.5 379.5,485.5 379.5,478.2 380.1,478.2 380.1,478.4 380.8,478.4 380.8,485.0 381.4,485.0 381.4,481.6 382.1,481.6 382.1,480.3 382.7,480.3 382.7,478.1 383.4,478.1 383.4,475.5 384.0,475.5 384.0,470.7 384.7,470.7 384.7,477.6 385.3,477.6 385.3,473.2 386.0,473.2 386.0,480.5 386.6,480.5 386.6,477.9 387.3,477.9 387.3,481.8 387.9,481.8 387.9,480.8 388.6,480.8 388.6,479.8 389.2,479.8 389.2,477.8 389.9,477.8 389.9,478.7 390.5,478.7 390.5,484.0 391.2,484.0 391.2,475.3 391.8,475.3 391.8,483.0 392.5,483.0 392.5,485.3 393.1,485.3 393.1,484.2 393.8,484.2 393.8,485.4 394.4,485.4 394.4,484.6 395.1,484.6 395.1,490.0 395.7,490.0 395.7,488.7 396.4,488.7 396.4,484.2 397.0,484.2 397.0,485.0 397.7,485.0 397.7,486.2 398.3,486.2 398.3,484.8 399.0,484.8 399.0,479.5 399.6,479.5 399.6,481.5 400.3,481.5 400.3,481.9 400.9,481.9 400.9,481.6 401.6,481.6 401.6,486.4 402.2,486.4 402.2,481.5 402.9,481.5 402.9,479.0 403.5,479.0 403.5,480.3 404.2,480.3 404.2,481.7 404.8,481.7 404.8,486.2 405.5,486.2 405.5,484.6 406.1,484.6 406.1,480.4 406.8,480.4 406.8,481.7 407.4,481.7 407.4,478.1 408.1,478.1 408.1,482.1 408.7,482.1 408.7,478.9 409.4,478.9 409.4,486.2 410.0,486.2 410.0,484.6 410.7,484.6 410.7,489.5 411.3,489.5 411.3,486.2 412.0,486.2 412.0,484.3 412.6,484.3 412.6,485.7 413.3,485.7 413.3,490.9 413.9,490.9 413.9,485.6 414.6,485.6 414.6,486.2 415.2,486.2 415.2,484.0 415.9,484.0 415.9,483.4 416.5,483.4 416.5,485.2 417.2,485.2 417.2,479.1 417.8,479.1 417.8,477.6 418.5,477.6 418.5,482.8 419.1,482.8 419.1,483.3 419.8,483.3 419.8,485.2 420.4,485.2 420.4,479.9 421.1,479.9 421.1,483.5 421.7,483.5 421.7,485.8 422.4,485.8 422.4,479.1 423.0,479.1 423.0,483.5 423.7,483.5 423.7,485.8 424.3,485.8 424.3,482.4 425.0,482.4 425.0,483.6 425.6,483.6 425.6,486.6 426.3,486.6 426.3,484.6 426.9,484.6 426.9,481.0 427.6,481.0 427.6,485.7 428.2,485.7 428.2,482.7 428.9,482.7 428.9,482.3 429.5,482.3 429.5,484.3 430.2,484.3 430.2,488.5 430.8,488.5 430.8,488.0 431.5,488.0 431.5,486.5 432.1,486.5 432.1,487.0 432.8,487.0 432.8,488.4 433.4,488.4 433.4,485.9 434.1,485.9 434.1,488.2 434.7,488.2 434.7,491.2 435.4,491.2 435.4,491.4 436.0,491.4 436.0,493.6 436.7,493.6 436.7,496.5 437.3,496.5 437.3,493.7 438.0,493.7 438.0,495.7 438.6,495.7 438.6,498.0 439.3,498.0 439.3,494.4 439.9,494.4 439.9,495.5 440.6,495.5 440.6,496.6 441.2,496.6 441.2,497.9 441.9,497.9 441.9,497.2 442.5,497.2 442.5,498.6 443.2,498.6 443.2,499.8 443.8,499.8 443.8,497.3 444.5,497.3 444.5,497.6 445.1,497.6 445.1,499.2 445.8,499.2 445.8,498.3 446.4,498.3 446.4,500.5 447.1,500.5 447.1,498.0 447.7,498.0 447.7,497.0 448.4,497.0 448.4,498.3 449.0,498.3 449.0,496.4 449.7,496.4 449.7,499.4 450.3,499.4 450.3,498.7 451.0,498.7 451.0,499.8 451.6,499.8 451.6,500.5 452.3,500.5 452.3,498.2 452.9,498.2 452.9,497.8 453.6,497.8 453.6,497.9 454.2,497.9 454.2,498.0 454.9,498.0 454.9,499.0 455.5,499.0 455.5,497.0 456.2,497.0 456.2,498.3 456.8,498.3 456.8,497.3 457.5,497.3 457.5,500.9 458.1,500.9 458.1,501.9 458.8,501.9 458.8,500.9 459.4,500.9 459.4,500.6 460.1,500.6 460.1,499.3 460.7,499.3 460.7,500.3 461.4,500.3 461.4,502.1 462.0,502.1 462.0,500.2 462.7,500.2 462.7,501.1 463.3,501.1 463.3,500.5 464.0,500.5 464.0,500.7 464.6,500.7 464.6,502.6 465.3,502.6 465.3,502.9 465.9,502.9 465.9,502.2 466.6,502.2 466.6,502.8 467.2,502.8 467.2,502.0 467.9,502.0 467.9,502.4 468.5,502.4 468.5,502.4 469.2,502.4 469.2,502.2 469.8,502.2 469.8,502.5 470.5,502.5 470.5,501.9 471.1,501.9 471.1,503.2 471.8,503.2 471.8,502.1 472.4,502.1 472.4,504.0 473.1,504.0 473.1,502.8 473.7,502.8 473.7,503.0 474.4,503.0 474.4,503.4 475.0,503.4 475.0,502.6 475.7,502.6 475.7,503.4 476.3,503.4 476.3,503.7 477.0,503.7 477.0,502.5 477.6,502.5 477.6,503.9 478.3,503.9 478.3,502.6 478.9,502.6 478.9,504.0 479.6,504.0 479.6,504.0 480.2,504.0 480.2,502.9 480.9,502.9 480.9,504.0 481.5,504.0 481.5,502.7 482.2,502.7 482.2,502.6 482.8,502.6 482.8,504.0 483.5,504.0 483.5,504.0 484.1,504.0 484.1,503.4 484.8,503.4 484.8,504.0 485.4,504.0 485.4,504.0 486.1,504.0 486.1,503.5 486.7,503.5 486.7,502.9 487.4,502.9 487.4,503.6 488.0,503.6 488.0,504.0 488.7,504.0 488.7,503.8 489.3,503.8 489.3,503.9 490.0,503.9 490.0,504.0 490.6,504.0 490.6,504.0 491.3,504.0 491.3,503.9 491.9,503.9 491.9,504.0 492.6,504.0 492.6,503.6 493.2,503.6 493.2,503.5 493.9,503.5 493.9,503.0 494.5,503.0 494.5,502.7 495.2,502.7 495.2,502.8 495.8,502.8 495.8,503.8 496.5,503.8 496.5,504.0 497.1,504.0 497.1,503.0 497.8,503.0 497.8,502.9 498.4,502.9 498.4,502.6 499.1,502.6 499.1,503.1 499.7,503.1 499.7,502.7 500.4,502.7 500.4,503.5 501.0,503.5 501.0,502.6 501.7,502.6 501.7,503.2 502.3,503.2 502.3,502.6 503.0,502.6 503.0,502.6 503.6,502.6 503.6,503.8 504.3,503.8 504.3,503.3 504.9,503.3 504.9,502.8 505.6,502.8 505.6,503.9 506.2,503.9 506.2,503.3 506.9,503.3 506.9,503.9 507.5,503.9 507.5,502.9 508.2,502.9 508.2,502.6 508.8,502.6 508.8,503.4 509.5,503.4 509.5,502.7 510.0,502.7 510.0,503.3" fill="none" stroke="#f80a0a" stroke-width="2.2" stroke-linejoin="miter"/>
<line x1="339.3" y1="409.1" x2="511" y2="409.1" stroke="#000" stroke-width="1.9"/>
<line x1="510" y1="409.1" x2="510" y2="505" stroke="#000" stroke-width="2"/>
<line x1="340.8" y1="504" x2="511" y2="504" stroke="#000" stroke-width="2.2"/>
<path d="M346.8 504 v4.5 M350.2 504 v3.2 M353.7 504 v3.2 M357.1 504 v3.2 M360.6 504 v3.2 M364.0 504 v3.2 M367.5 504 v3.2 M370.9 504 v3.2 M374.4 504 v3.2 M377.8 504 v3.2 M381.3 504 v3.2 M384.7 504 v3.2 M388.2 504 v3.2 M391.6 504 v3.2 M395.1 504 v3.2 M398.5 504 v3.2 M402.0 504 v3.2 M405.4 504 v3.2 M408.9 504 v3.2 M412.3 504 v3.2 M415.8 504 v3.2 M419.2 504 v3.2 M422.7 504 v3.2 M426.1 504 v3.2 M429.6 504 v3.2 M433.0 504 v3.2 M436.5 504 v3.2 M439.9 504 v3.2 M443.4 504 v3.2 M446.8 504 v3.2 M450.3 504 v3.2 M453.7 504 v3.2 M457.2 504 v3.2 M460.6 504 v3.2 M464.1 504 v3.2 M467.5 504 v3.2 M471.0 504 v3.2 M474.4 504 v3.2 M477.9 504 v3.2 M481.3 504 v3.2 M484.8 504 v3.2 M488.2 504 v3.2 M491.7 504 v3.2 M495.1 504 v3.2 M498.6 504 v3.2 M502.0 504 v3.2 M505.5 504 v3.2 M508.9 504 v3.2 M510.0 504 v4.5 M346.8 504 v4.5 M387.6 504 v4.5 M428.4 504 v4.5 M469.2 504 v4.5 M510.0 504 v4.5" stroke="#000" stroke-width="1.3"/>
<path d="M342.0 504.0 h4.8 M343.6 500.9 h3.2 M343.6 497.8 h3.2 M343.6 494.8 h3.2 M343.6 491.7 h3.2 M342.0 488.6 h4.8 M343.6 485.5 h3.2 M343.6 482.4 h3.2 M343.6 479.4 h3.2 M343.6 476.3 h3.2 M342.0 473.2 h4.8 M343.6 470.1 h3.2 M343.6 467.0 h3.2 M343.6 464.0 h3.2 M343.6 460.9 h3.2 M342.0 457.8 h4.8 M343.6 454.7 h3.2 M343.6 451.6 h3.2 M343.6 448.6 h3.2 M343.6 445.5 h3.2 M342.0 442.4 h4.8 M343.6 439.3 h3.2 M343.6 436.2 h3.2 M343.6 433.2 h3.2 M343.6 430.1 h3.2 M342.0 427.0 h4.8 M343.6 423.9 h3.2 M343.6 420.8 h3.2 M343.6 417.8 h3.2 M343.6 414.7 h3.2 M342.0 411.6 h4.8" stroke="#000" stroke-width="1.3"/>
<line x1="346.8" y1="409.6" x2="346.8" y2="504" stroke="#e0101e" stroke-width="2.9"/>
<line x1="385.1" y1="443.5" x2="385.1" y2="462" stroke="#000" stroke-width="2"/>
<line x1="385.1" y1="453.9" x2="510" y2="453.9" stroke="#d4d4d4" stroke-width="1.2"/>
<line x1="388.1" y1="453.9" x2="510" y2="453.9" stroke="#888" stroke-width="1.3" stroke-dasharray="11 9"/>
<text x="454.2" y="447.6" text-anchor="middle" font-family="Liberation Sans" font-size="17.9" stroke="#000" stroke-width="0.1">43.7%</text>
<text transform="translate(337.3,410.6) rotate(-90)" font-family="Liberation Sans" font-weight="bold" font-size="12.6" text-anchor="middle">20</text>
<text transform="translate(337.0,503.5) rotate(-90)" font-family="Liberation Sans" font-weight="bold" font-size="11" text-anchor="middle">0</text>
<text x="336.6" y="520.4" font-family="Liberation Sans" font-weight="bold" font-size="11">10<tspan dx="0.6" dy="-6" font-size="9.5">0</tspan></text>
<text x="377.4" y="520.4" font-family="Liberation Sans" font-weight="bold" font-size="11">10<tspan dx="0.6" dy="-6" font-size="9.5">1</tspan></text>
<text x="418.2" y="520.4" font-family="Liberation Sans" font-weight="bold" font-size="11">10<tspan dx="0.6" dy="-6" font-size="9.5">2</tspan></text>
<text x="459.0" y="520.4" font-family="Liberation Sans" font-weight="bold" font-size="11">10<tspan dx="0.6" dy="-6" font-size="9.5">3</tspan></text>
<text x="499.8" y="520.4" font-family="Liberation Sans" font-weight="bold" font-size="11">10<tspan dx="0.6" dy="-6" font-size="9.5">4</tspan></text>
</svg>
</body></html>
